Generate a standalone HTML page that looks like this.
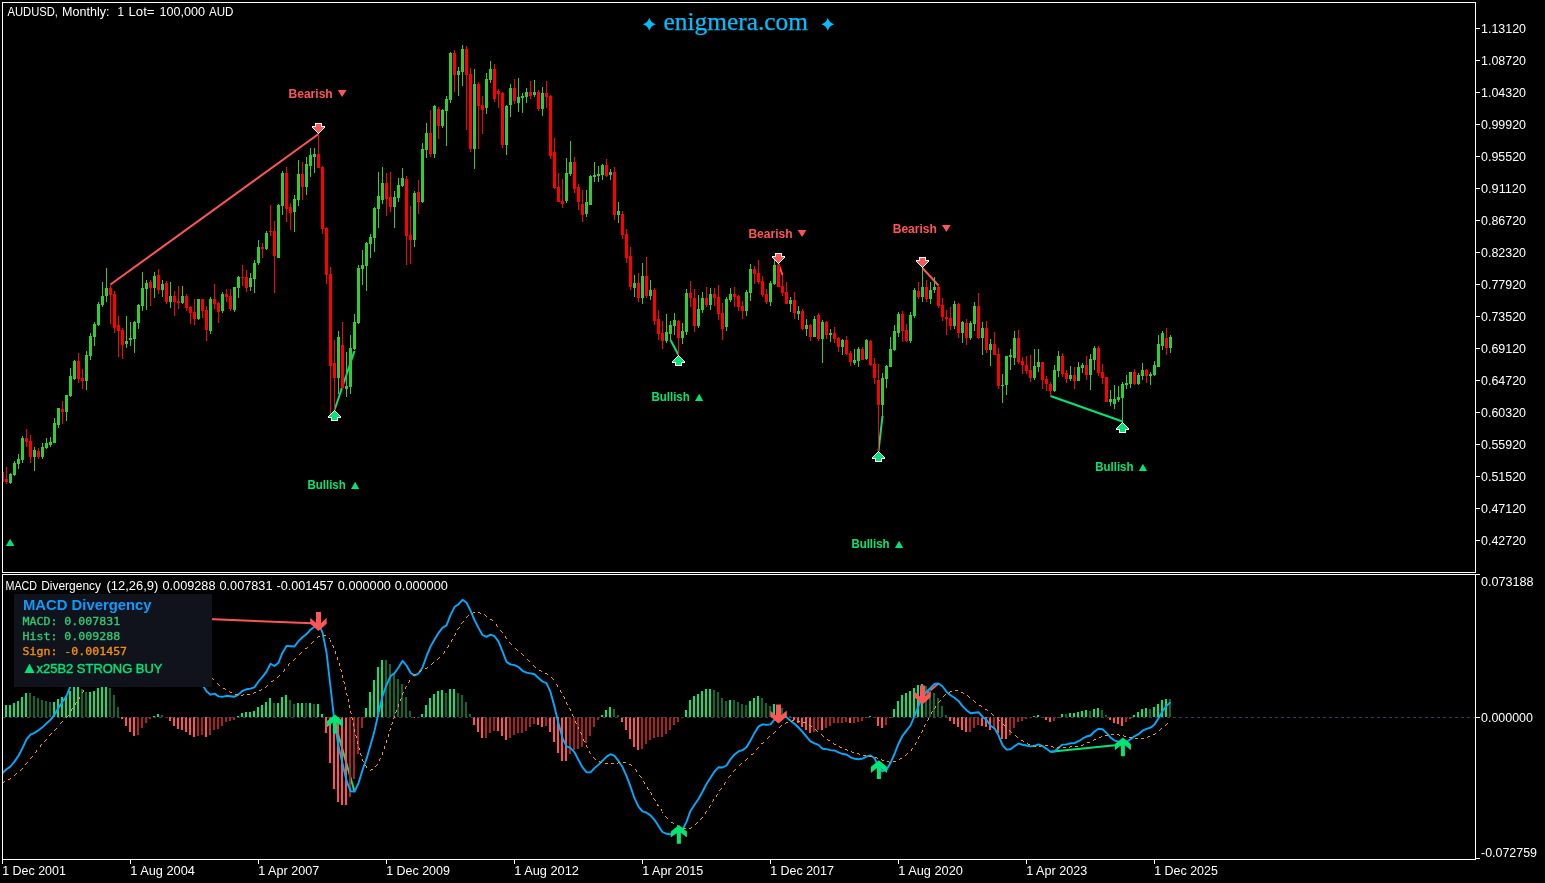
<!DOCTYPE html><html><head><meta charset="utf-8"><title>AUDUSD Monthly - MACD Divergency</title><style>html,body{margin:0;padding:0;background:#000;overflow:hidden}svg{display:block}text{white-space:pre}</style></head><body><svg width="1545" height="883" viewBox="0 0 1545 883"><rect width="1545" height="883" fill="#000"/><g><line x1="110.5" y1="284.5" x2="318.5" y2="134" stroke="#ff5555" stroke-width="2"/><line x1="334.5" y1="410" x2="354.5" y2="351" stroke="#00e676" stroke-width="2"/><line x1="670.5" y1="340" x2="678.5" y2="355" stroke="#00e676" stroke-width="2"/><line x1="778.5" y1="264" x2="782.5" y2="275" stroke="#ff5555" stroke-width="2"/><line x1="878.5" y1="451" x2="882.5" y2="416" stroke="#00e676" stroke-width="2"/><line x1="922.5" y1="268" x2="938.5" y2="285.5" stroke="#ff5555" stroke-width="2"/><line x1="1050.5" y1="396" x2="1122.5" y2="421.5" stroke="#00e676" stroke-width="2"/></g><g shape-rendering="crispEdges"><rect x="3" y="472" width="1" height="10" fill="#ff0000"/><rect x="6" y="467" width="1" height="17" fill="#ff0000"/><rect x="5" y="479" width="3" height="3" fill="#ff0000"/><rect x="10" y="473" width="1" height="11" fill="#32cd32"/><rect x="9" y="474" width="3" height="9" fill="#32cd32"/><rect x="14" y="461" width="1" height="15" fill="#32cd32"/><rect x="13" y="463" width="3" height="12" fill="#32cd32"/><rect x="18" y="454" width="1" height="15" fill="#32cd32"/><rect x="17" y="459" width="3" height="5" fill="#32cd32"/><rect x="22" y="436" width="1" height="27" fill="#32cd32"/><rect x="21" y="438" width="3" height="22" fill="#32cd32"/><rect x="26" y="429" width="1" height="18" fill="#ff0000"/><rect x="25" y="438" width="3" height="4" fill="#ff0000"/><rect x="30" y="435" width="1" height="28" fill="#ff0000"/><rect x="29" y="441" width="3" height="16" fill="#ff0000"/><rect x="34" y="447" width="1" height="24" fill="#32cd32"/><rect x="33" y="450" width="3" height="7" fill="#32cd32"/><rect x="38" y="448" width="1" height="11" fill="#ff0000"/><rect x="37" y="451" width="3" height="6" fill="#ff0000"/><rect x="42" y="443" width="1" height="16" fill="#32cd32"/><rect x="41" y="447" width="3" height="10" fill="#32cd32"/><rect x="46" y="438" width="1" height="11" fill="#32cd32"/><rect x="45" y="443" width="3" height="5" fill="#32cd32"/><rect x="50" y="437" width="1" height="10" fill="#32cd32"/><rect x="49" y="442" width="3" height="3" fill="#32cd32"/><rect x="54" y="418" width="1" height="25" fill="#32cd32"/><rect x="53" y="423" width="3" height="20" fill="#32cd32"/><rect x="58" y="408" width="1" height="20" fill="#32cd32"/><rect x="57" y="408" width="3" height="17" fill="#32cd32"/><rect x="62" y="401" width="1" height="23" fill="#ff0000"/><rect x="61" y="409" width="3" height="3" fill="#ff0000"/><rect x="66" y="395" width="1" height="26" fill="#32cd32"/><rect x="65" y="395" width="3" height="17" fill="#32cd32"/><rect x="70" y="368" width="1" height="29" fill="#32cd32"/><rect x="69" y="376" width="3" height="20" fill="#32cd32"/><rect x="74" y="360" width="1" height="20" fill="#32cd32"/><rect x="73" y="361" width="3" height="18" fill="#32cd32"/><rect x="78" y="353" width="1" height="30" fill="#ff0000"/><rect x="77" y="361" width="3" height="18" fill="#ff0000"/><rect x="82" y="369" width="1" height="20" fill="#ff0000"/><rect x="81" y="378" width="3" height="3" fill="#ff0000"/><rect x="86" y="351" width="1" height="39" fill="#32cd32"/><rect x="85" y="355" width="3" height="26" fill="#32cd32"/><rect x="90" y="333" width="1" height="27" fill="#32cd32"/><rect x="89" y="336" width="3" height="20" fill="#32cd32"/><rect x="94" y="322" width="1" height="24" fill="#32cd32"/><rect x="93" y="324" width="3" height="13" fill="#32cd32"/><rect x="98" y="302" width="1" height="24" fill="#32cd32"/><rect x="97" y="304" width="3" height="21" fill="#32cd32"/><rect x="102" y="282" width="1" height="25" fill="#32cd32"/><rect x="101" y="296" width="3" height="9" fill="#32cd32"/><rect x="106" y="268" width="1" height="34" fill="#32cd32"/><rect x="105" y="288" width="3" height="8" fill="#32cd32"/><rect x="110" y="284" width="1" height="40" fill="#ff0000"/><rect x="109" y="288" width="3" height="7" fill="#ff0000"/><rect x="114" y="291" width="1" height="42" fill="#ff0000"/><rect x="113" y="294" width="3" height="34" fill="#ff0000"/><rect x="118" y="316" width="1" height="41" fill="#ff0000"/><rect x="117" y="325" width="3" height="6" fill="#ff0000"/><rect x="122" y="328" width="1" height="31" fill="#ff0000"/><rect x="121" y="330" width="3" height="15" fill="#ff0000"/><rect x="126" y="316" width="1" height="32" fill="#32cd32"/><rect x="125" y="341" width="3" height="3" fill="#32cd32"/><rect x="130" y="322" width="1" height="24" fill="#32cd32"/><rect x="129" y="338" width="3" height="2" fill="#32cd32"/><rect x="134" y="321" width="1" height="32" fill="#32cd32"/><rect x="133" y="322" width="3" height="17" fill="#32cd32"/><rect x="138" y="304" width="1" height="25" fill="#32cd32"/><rect x="137" y="305" width="3" height="18" fill="#32cd32"/><rect x="142" y="272" width="1" height="39" fill="#32cd32"/><rect x="141" y="288" width="3" height="18" fill="#32cd32"/><rect x="146" y="280" width="1" height="30" fill="#32cd32"/><rect x="145" y="283" width="3" height="6" fill="#32cd32"/><rect x="150" y="280" width="1" height="26" fill="#ff0000"/><rect x="149" y="282" width="3" height="6" fill="#ff0000"/><rect x="154" y="272" width="1" height="26" fill="#32cd32"/><rect x="153" y="276" width="3" height="12" fill="#32cd32"/><rect x="158" y="269" width="1" height="25" fill="#ff0000"/><rect x="157" y="275" width="3" height="15" fill="#ff0000"/><rect x="162" y="280" width="1" height="17" fill="#32cd32"/><rect x="161" y="284" width="3" height="6" fill="#32cd32"/><rect x="166" y="281" width="1" height="23" fill="#ff0000"/><rect x="165" y="283" width="3" height="19" fill="#ff0000"/><rect x="170" y="282" width="1" height="26" fill="#32cd32"/><rect x="169" y="296" width="3" height="6" fill="#32cd32"/><rect x="174" y="291" width="1" height="25" fill="#ff0000"/><rect x="173" y="296" width="3" height="6" fill="#ff0000"/><rect x="178" y="286" width="1" height="23" fill="#ff0000"/><rect x="177" y="301" width="3" height="2" fill="#ff0000"/><rect x="182" y="286" width="1" height="18" fill="#32cd32"/><rect x="181" y="296" width="3" height="7" fill="#32cd32"/><rect x="186" y="294" width="1" height="17" fill="#ff0000"/><rect x="185" y="296" width="3" height="12" fill="#ff0000"/><rect x="190" y="306" width="1" height="18" fill="#ff0000"/><rect x="189" y="307" width="3" height="6" fill="#ff0000"/><rect x="194" y="299" width="1" height="26" fill="#ff0000"/><rect x="193" y="312" width="3" height="7" fill="#ff0000"/><rect x="198" y="299" width="1" height="21" fill="#32cd32"/><rect x="197" y="299" width="3" height="20" fill="#32cd32"/><rect x="202" y="299" width="1" height="19" fill="#ff0000"/><rect x="201" y="299" width="3" height="12" fill="#ff0000"/><rect x="206" y="306" width="1" height="35" fill="#ff0000"/><rect x="205" y="310" width="3" height="20" fill="#ff0000"/><rect x="210" y="297" width="1" height="37" fill="#32cd32"/><rect x="209" y="299" width="3" height="32" fill="#32cd32"/><rect x="214" y="284" width="1" height="25" fill="#ff0000"/><rect x="213" y="299" width="3" height="5" fill="#ff0000"/><rect x="218" y="302" width="1" height="21" fill="#ff0000"/><rect x="217" y="303" width="3" height="9" fill="#ff0000"/><rect x="222" y="292" width="1" height="21" fill="#32cd32"/><rect x="221" y="294" width="3" height="17" fill="#32cd32"/><rect x="226" y="289" width="1" height="13" fill="#ff0000"/><rect x="225" y="294" width="3" height="3" fill="#ff0000"/><rect x="230" y="289" width="1" height="22" fill="#ff0000"/><rect x="229" y="296" width="3" height="13" fill="#ff0000"/><rect x="234" y="287" width="1" height="25" fill="#32cd32"/><rect x="233" y="287" width="3" height="23" fill="#32cd32"/><rect x="238" y="276" width="1" height="22" fill="#32cd32"/><rect x="237" y="277" width="3" height="11" fill="#32cd32"/><rect x="242" y="265" width="1" height="21" fill="#ff0000"/><rect x="241" y="277" width="3" height="1" fill="#ff0000"/><rect x="246" y="270" width="1" height="22" fill="#ff0000"/><rect x="245" y="277" width="3" height="11" fill="#ff0000"/><rect x="250" y="273" width="1" height="18" fill="#32cd32"/><rect x="249" y="278" width="3" height="9" fill="#32cd32"/><rect x="254" y="260" width="1" height="33" fill="#32cd32"/><rect x="253" y="263" width="3" height="16" fill="#32cd32"/><rect x="258" y="240" width="1" height="25" fill="#32cd32"/><rect x="257" y="247" width="3" height="16" fill="#32cd32"/><rect x="262" y="243" width="1" height="15" fill="#ff0000"/><rect x="261" y="247" width="3" height="2" fill="#ff0000"/><rect x="266" y="231" width="1" height="19" fill="#32cd32"/><rect x="265" y="233" width="3" height="16" fill="#32cd32"/><rect x="270" y="205" width="1" height="31" fill="#ff0000"/><rect x="269" y="231" width="3" height="1" fill="#ff0000"/><rect x="274" y="221" width="1" height="72" fill="#ff0000"/><rect x="273" y="231" width="3" height="25" fill="#ff0000"/><rect x="278" y="204" width="1" height="54" fill="#32cd32"/><rect x="277" y="205" width="3" height="53" fill="#32cd32"/><rect x="282" y="171" width="1" height="44" fill="#32cd32"/><rect x="281" y="173" width="3" height="33" fill="#32cd32"/><rect x="286" y="167" width="1" height="55" fill="#ff0000"/><rect x="285" y="173" width="3" height="36" fill="#ff0000"/><rect x="290" y="203" width="1" height="27" fill="#ff0000"/><rect x="289" y="207" width="3" height="6" fill="#ff0000"/><rect x="294" y="195" width="1" height="37" fill="#32cd32"/><rect x="293" y="199" width="3" height="13" fill="#32cd32"/><rect x="298" y="160" width="1" height="46" fill="#32cd32"/><rect x="297" y="174" width="3" height="26" fill="#32cd32"/><rect x="302" y="162" width="1" height="38" fill="#ff0000"/><rect x="301" y="174" width="3" height="13" fill="#ff0000"/><rect x="306" y="157" width="1" height="38" fill="#32cd32"/><rect x="305" y="164" width="3" height="23" fill="#32cd32"/><rect x="310" y="148" width="1" height="29" fill="#32cd32"/><rect x="309" y="155" width="3" height="11" fill="#32cd32"/><rect x="314" y="148" width="1" height="25" fill="#32cd32"/><rect x="313" y="154" width="3" height="3" fill="#32cd32"/><rect x="318" y="134" width="1" height="34" fill="#ff0000"/><rect x="317" y="154" width="3" height="14" fill="#ff0000"/><rect x="322" y="166" width="1" height="68" fill="#ff0000"/><rect x="321" y="167" width="3" height="62" fill="#ff0000"/><rect x="326" y="227" width="1" height="57" fill="#ff0000"/><rect x="325" y="228" width="3" height="47" fill="#ff0000"/><rect x="330" y="267" width="1" height="148" fill="#ff0000"/><rect x="329" y="274" width="3" height="92" fill="#ff0000"/><rect x="334" y="340" width="1" height="70" fill="#ff0000"/><rect x="333" y="363" width="3" height="15" fill="#ff0000"/><rect x="338" y="331" width="1" height="63" fill="#32cd32"/><rect x="337" y="337" width="3" height="41" fill="#32cd32"/><rect x="342" y="322" width="1" height="68" fill="#ff0000"/><rect x="341" y="345" width="3" height="43" fill="#ff0000"/><rect x="346" y="352" width="1" height="45" fill="#32cd32"/><rect x="345" y="386" width="3" height="3" fill="#32cd32"/><rect x="350" y="335" width="1" height="59" fill="#32cd32"/><rect x="349" y="348" width="3" height="39" fill="#32cd32"/><rect x="354" y="314" width="1" height="36" fill="#32cd32"/><rect x="353" y="322" width="3" height="27" fill="#32cd32"/><rect x="358" y="265" width="1" height="59" fill="#32cd32"/><rect x="357" y="268" width="3" height="55" fill="#32cd32"/><rect x="362" y="250" width="1" height="35" fill="#32cd32"/><rect x="361" y="265" width="3" height="4" fill="#32cd32"/><rect x="366" y="242" width="1" height="49" fill="#32cd32"/><rect x="365" y="243" width="3" height="23" fill="#32cd32"/><rect x="370" y="234" width="1" height="24" fill="#32cd32"/><rect x="369" y="237" width="3" height="7" fill="#32cd32"/><rect x="374" y="207" width="1" height="45" fill="#32cd32"/><rect x="373" y="208" width="3" height="30" fill="#32cd32"/><rect x="378" y="172" width="1" height="56" fill="#32cd32"/><rect x="377" y="196" width="3" height="13" fill="#32cd32"/><rect x="382" y="167" width="1" height="37" fill="#32cd32"/><rect x="381" y="183" width="3" height="17" fill="#32cd32"/><rect x="386" y="173" width="1" height="43" fill="#ff0000"/><rect x="385" y="183" width="3" height="16" fill="#ff0000"/><rect x="390" y="172" width="1" height="40" fill="#ff0000"/><rect x="389" y="197" width="3" height="10" fill="#ff0000"/><rect x="394" y="191" width="1" height="37" fill="#32cd32"/><rect x="393" y="197" width="3" height="10" fill="#32cd32"/><rect x="398" y="178" width="1" height="24" fill="#32cd32"/><rect x="397" y="185" width="3" height="13" fill="#32cd32"/><rect x="402" y="168" width="1" height="19" fill="#32cd32"/><rect x="401" y="178" width="3" height="8" fill="#32cd32"/><rect x="406" y="176" width="1" height="89" fill="#ff0000"/><rect x="405" y="179" width="3" height="57" fill="#ff0000"/><rect x="410" y="206" width="1" height="58" fill="#ff0000"/><rect x="409" y="235" width="3" height="5" fill="#ff0000"/><rect x="414" y="191" width="1" height="56" fill="#32cd32"/><rect x="413" y="193" width="3" height="47" fill="#32cd32"/><rect x="418" y="180" width="1" height="34" fill="#ff0000"/><rect x="417" y="192" width="3" height="10" fill="#ff0000"/><rect x="422" y="143" width="1" height="60" fill="#32cd32"/><rect x="421" y="149" width="3" height="53" fill="#32cd32"/><rect x="426" y="123" width="1" height="35" fill="#32cd32"/><rect x="425" y="133" width="3" height="17" fill="#32cd32"/><rect x="430" y="110" width="1" height="47" fill="#ff0000"/><rect x="429" y="133" width="3" height="21" fill="#ff0000"/><rect x="434" y="105" width="1" height="53" fill="#32cd32"/><rect x="433" y="106" width="3" height="48" fill="#32cd32"/><rect x="438" y="107" width="1" height="32" fill="#ff0000"/><rect x="437" y="109" width="3" height="17" fill="#ff0000"/><rect x="442" y="109" width="1" height="19" fill="#32cd32"/><rect x="441" y="110" width="3" height="16" fill="#32cd32"/><rect x="446" y="96" width="1" height="50" fill="#32cd32"/><rect x="445" y="99" width="3" height="12" fill="#32cd32"/><rect x="450" y="52" width="1" height="51" fill="#32cd32"/><rect x="449" y="53" width="3" height="47" fill="#32cd32"/><rect x="454" y="50" width="1" height="42" fill="#ff0000"/><rect x="453" y="53" width="3" height="22" fill="#ff0000"/><rect x="458" y="67" width="1" height="29" fill="#32cd32"/><rect x="457" y="71" width="3" height="4" fill="#32cd32"/><rect x="462" y="45" width="1" height="41" fill="#32cd32"/><rect x="461" y="49" width="3" height="23" fill="#32cd32"/><rect x="466" y="46" width="1" height="84" fill="#ff0000"/><rect x="465" y="49" width="3" height="26" fill="#ff0000"/><rect x="470" y="68" width="1" height="84" fill="#ff0000"/><rect x="469" y="74" width="3" height="75" fill="#ff0000"/><rect x="474" y="69" width="1" height="100" fill="#32cd32"/><rect x="473" y="84" width="3" height="65" fill="#32cd32"/><rect x="478" y="82" width="1" height="67" fill="#ff0000"/><rect x="477" y="84" width="3" height="22" fill="#ff0000"/><rect x="482" y="96" width="1" height="38" fill="#ff0000"/><rect x="481" y="105" width="3" height="5" fill="#ff0000"/><rect x="486" y="73" width="1" height="41" fill="#32cd32"/><rect x="485" y="79" width="3" height="29" fill="#32cd32"/><rect x="490" y="61" width="1" height="22" fill="#32cd32"/><rect x="489" y="69" width="3" height="11" fill="#32cd32"/><rect x="494" y="64" width="1" height="38" fill="#ff0000"/><rect x="493" y="69" width="3" height="30" fill="#ff0000"/><rect x="498" y="89" width="1" height="19" fill="#ff0000"/><rect x="497" y="91" width="3" height="3" fill="#ff0000"/><rect x="502" y="92" width="1" height="56" fill="#ff0000"/><rect x="501" y="93" width="3" height="52" fill="#ff0000"/><rect x="506" y="105" width="1" height="50" fill="#32cd32"/><rect x="505" y="106" width="3" height="39" fill="#32cd32"/><rect x="510" y="84" width="1" height="33" fill="#32cd32"/><rect x="509" y="88" width="3" height="17" fill="#32cd32"/><rect x="514" y="79" width="1" height="25" fill="#ff0000"/><rect x="513" y="88" width="3" height="13" fill="#ff0000"/><rect x="518" y="78" width="1" height="34" fill="#32cd32"/><rect x="517" y="97" width="3" height="6" fill="#32cd32"/><rect x="522" y="93" width="1" height="20" fill="#32cd32"/><rect x="521" y="96" width="3" height="2" fill="#32cd32"/><rect x="526" y="88" width="1" height="15" fill="#32cd32"/><rect x="525" y="92" width="3" height="5" fill="#32cd32"/><rect x="530" y="81" width="1" height="18" fill="#ff0000"/><rect x="529" y="92" width="3" height="4" fill="#ff0000"/><rect x="534" y="80" width="1" height="17" fill="#32cd32"/><rect x="533" y="92" width="3" height="3" fill="#32cd32"/><rect x="538" y="90" width="1" height="21" fill="#ff0000"/><rect x="537" y="92" width="3" height="17" fill="#ff0000"/><rect x="542" y="87" width="1" height="29" fill="#32cd32"/><rect x="541" y="93" width="3" height="16" fill="#32cd32"/><rect x="546" y="81" width="1" height="27" fill="#ff0000"/><rect x="545" y="93" width="3" height="4" fill="#ff0000"/><rect x="550" y="95" width="1" height="64" fill="#ff0000"/><rect x="549" y="96" width="3" height="60" fill="#ff0000"/><rect x="554" y="138" width="1" height="51" fill="#ff0000"/><rect x="553" y="152" width="3" height="36" fill="#ff0000"/><rect x="558" y="173" width="1" height="29" fill="#ff0000"/><rect x="557" y="187" width="3" height="15" fill="#ff0000"/><rect x="562" y="179" width="1" height="29" fill="#ff0000"/><rect x="561" y="201" width="3" height="3" fill="#ff0000"/><rect x="566" y="158" width="1" height="45" fill="#32cd32"/><rect x="565" y="173" width="3" height="28" fill="#32cd32"/><rect x="570" y="141" width="1" height="35" fill="#32cd32"/><rect x="569" y="162" width="3" height="12" fill="#32cd32"/><rect x="574" y="157" width="1" height="36" fill="#ff0000"/><rect x="573" y="162" width="3" height="27" fill="#ff0000"/><rect x="578" y="184" width="1" height="26" fill="#ff0000"/><rect x="577" y="187" width="3" height="15" fill="#ff0000"/><rect x="582" y="190" width="1" height="32" fill="#ff0000"/><rect x="581" y="204" width="3" height="11" fill="#ff0000"/><rect x="586" y="190" width="1" height="27" fill="#32cd32"/><rect x="585" y="202" width="3" height="12" fill="#32cd32"/><rect x="590" y="175" width="1" height="30" fill="#32cd32"/><rect x="589" y="176" width="3" height="29" fill="#32cd32"/><rect x="594" y="162" width="1" height="20" fill="#32cd32"/><rect x="593" y="175" width="3" height="2" fill="#32cd32"/><rect x="598" y="166" width="1" height="16" fill="#32cd32"/><rect x="597" y="174" width="3" height="2" fill="#32cd32"/><rect x="602" y="164" width="1" height="16" fill="#32cd32"/><rect x="601" y="165" width="3" height="10" fill="#32cd32"/><rect x="606" y="159" width="1" height="18" fill="#ff0000"/><rect x="605" y="165" width="3" height="11" fill="#ff0000"/><rect x="610" y="169" width="1" height="11" fill="#32cd32"/><rect x="609" y="172" width="3" height="3" fill="#32cd32"/><rect x="614" y="167" width="1" height="53" fill="#ff0000"/><rect x="613" y="172" width="3" height="43" fill="#ff0000"/><rect x="618" y="202" width="1" height="21" fill="#32cd32"/><rect x="617" y="211" width="3" height="4" fill="#32cd32"/><rect x="622" y="211" width="1" height="28" fill="#ff0000"/><rect x="621" y="214" width="3" height="21" fill="#ff0000"/><rect x="626" y="229" width="1" height="34" fill="#ff0000"/><rect x="625" y="234" width="3" height="24" fill="#ff0000"/><rect x="630" y="247" width="1" height="43" fill="#ff0000"/><rect x="629" y="256" width="3" height="31" fill="#ff0000"/><rect x="634" y="275" width="1" height="22" fill="#32cd32"/><rect x="633" y="283" width="3" height="5" fill="#32cd32"/><rect x="638" y="273" width="1" height="29" fill="#ff0000"/><rect x="637" y="283" width="3" height="15" fill="#ff0000"/><rect x="642" y="263" width="1" height="41" fill="#32cd32"/><rect x="641" y="276" width="3" height="22" fill="#32cd32"/><rect x="646" y="257" width="1" height="41" fill="#ff0000"/><rect x="645" y="276" width="3" height="20" fill="#ff0000"/><rect x="650" y="280" width="1" height="20" fill="#32cd32"/><rect x="649" y="290" width="3" height="6" fill="#32cd32"/><rect x="654" y="288" width="1" height="37" fill="#ff0000"/><rect x="653" y="290" width="3" height="31" fill="#ff0000"/><rect x="658" y="310" width="1" height="30" fill="#ff0000"/><rect x="657" y="319" width="3" height="15" fill="#ff0000"/><rect x="662" y="321" width="1" height="28" fill="#ff0000"/><rect x="661" y="333" width="3" height="8" fill="#ff0000"/><rect x="666" y="314" width="1" height="29" fill="#32cd32"/><rect x="665" y="332" width="3" height="9" fill="#32cd32"/><rect x="670" y="321" width="1" height="19" fill="#32cd32"/><rect x="669" y="325" width="3" height="9" fill="#32cd32"/><rect x="674" y="313" width="1" height="22" fill="#32cd32"/><rect x="673" y="320" width="3" height="6" fill="#32cd32"/><rect x="678" y="320" width="1" height="35" fill="#ff0000"/><rect x="677" y="321" width="3" height="17" fill="#ff0000"/><rect x="682" y="323" width="1" height="21" fill="#32cd32"/><rect x="681" y="331" width="3" height="7" fill="#32cd32"/><rect x="686" y="289" width="1" height="46" fill="#32cd32"/><rect x="685" y="293" width="3" height="39" fill="#32cd32"/><rect x="690" y="281" width="1" height="26" fill="#ff0000"/><rect x="689" y="293" width="3" height="5" fill="#ff0000"/><rect x="694" y="289" width="1" height="43" fill="#ff0000"/><rect x="693" y="298" width="3" height="28" fill="#ff0000"/><rect x="698" y="295" width="1" height="33" fill="#32cd32"/><rect x="697" y="309" width="3" height="17" fill="#32cd32"/><rect x="702" y="292" width="1" height="21" fill="#32cd32"/><rect x="701" y="298" width="3" height="12" fill="#32cd32"/><rect x="706" y="287" width="1" height="20" fill="#ff0000"/><rect x="705" y="298" width="3" height="7" fill="#ff0000"/><rect x="710" y="288" width="1" height="22" fill="#32cd32"/><rect x="709" y="294" width="3" height="11" fill="#32cd32"/><rect x="714" y="288" width="1" height="18" fill="#ff0000"/><rect x="713" y="294" width="3" height="4" fill="#ff0000"/><rect x="718" y="285" width="1" height="35" fill="#ff0000"/><rect x="717" y="297" width="3" height="17" fill="#ff0000"/><rect x="722" y="303" width="1" height="37" fill="#ff0000"/><rect x="721" y="313" width="3" height="16" fill="#ff0000"/><rect x="726" y="297" width="1" height="34" fill="#32cd32"/><rect x="725" y="299" width="3" height="28" fill="#32cd32"/><rect x="730" y="288" width="1" height="14" fill="#32cd32"/><rect x="729" y="294" width="3" height="6" fill="#32cd32"/><rect x="734" y="287" width="1" height="20" fill="#ff0000"/><rect x="733" y="294" width="3" height="3" fill="#ff0000"/><rect x="738" y="295" width="1" height="16" fill="#ff0000"/><rect x="737" y="296" width="3" height="11" fill="#ff0000"/><rect x="742" y="301" width="1" height="18" fill="#ff0000"/><rect x="741" y="306" width="3" height="5" fill="#ff0000"/><rect x="746" y="290" width="1" height="26" fill="#32cd32"/><rect x="745" y="292" width="3" height="19" fill="#32cd32"/><rect x="750" y="264" width="1" height="37" fill="#32cd32"/><rect x="749" y="269" width="3" height="24" fill="#32cd32"/><rect x="754" y="266" width="1" height="18" fill="#ff0000"/><rect x="753" y="269" width="3" height="5" fill="#ff0000"/><rect x="758" y="260" width="1" height="24" fill="#ff0000"/><rect x="757" y="273" width="3" height="9" fill="#ff0000"/><rect x="762" y="276" width="1" height="21" fill="#ff0000"/><rect x="761" y="281" width="3" height="14" fill="#ff0000"/><rect x="766" y="289" width="1" height="15" fill="#ff0000"/><rect x="765" y="294" width="3" height="8" fill="#ff0000"/><rect x="770" y="281" width="1" height="25" fill="#32cd32"/><rect x="769" y="283" width="3" height="19" fill="#32cd32"/><rect x="774" y="260" width="1" height="25" fill="#32cd32"/><rect x="773" y="265" width="3" height="19" fill="#32cd32"/><rect x="778" y="264" width="1" height="23" fill="#ff0000"/><rect x="777" y="265" width="3" height="22" fill="#ff0000"/><rect x="782" y="275" width="1" height="21" fill="#ff0000"/><rect x="781" y="286" width="3" height="7" fill="#ff0000"/><rect x="786" y="282" width="1" height="22" fill="#ff0000"/><rect x="785" y="292" width="3" height="12" fill="#ff0000"/><rect x="790" y="297" width="1" height="15" fill="#32cd32"/><rect x="789" y="300" width="3" height="4" fill="#32cd32"/><rect x="794" y="292" width="1" height="27" fill="#ff0000"/><rect x="793" y="300" width="3" height="13" fill="#ff0000"/><rect x="798" y="306" width="1" height="14" fill="#32cd32"/><rect x="797" y="311" width="3" height="3" fill="#32cd32"/><rect x="802" y="309" width="1" height="21" fill="#ff0000"/><rect x="801" y="311" width="3" height="18" fill="#ff0000"/><rect x="806" y="319" width="1" height="17" fill="#32cd32"/><rect x="805" y="325" width="3" height="4" fill="#32cd32"/><rect x="810" y="324" width="1" height="17" fill="#ff0000"/><rect x="809" y="325" width="3" height="12" fill="#ff0000"/><rect x="814" y="316" width="1" height="21" fill="#32cd32"/><rect x="813" y="319" width="3" height="18" fill="#32cd32"/><rect x="818" y="313" width="1" height="28" fill="#ff0000"/><rect x="817" y="315" width="3" height="24" fill="#ff0000"/><rect x="822" y="320" width="1" height="43" fill="#32cd32"/><rect x="821" y="322" width="3" height="17" fill="#32cd32"/><rect x="826" y="321" width="1" height="18" fill="#ff0000"/><rect x="825" y="322" width="3" height="13" fill="#ff0000"/><rect x="830" y="329" width="1" height="13" fill="#32cd32"/><rect x="829" y="333" width="3" height="2" fill="#32cd32"/><rect x="834" y="327" width="1" height="16" fill="#ff0000"/><rect x="833" y="333" width="3" height="6" fill="#ff0000"/><rect x="838" y="337" width="1" height="15" fill="#ff0000"/><rect x="837" y="338" width="3" height="9" fill="#ff0000"/><rect x="842" y="339" width="1" height="16" fill="#32cd32"/><rect x="841" y="340" width="3" height="7" fill="#32cd32"/><rect x="846" y="336" width="1" height="19" fill="#ff0000"/><rect x="845" y="340" width="3" height="14" fill="#ff0000"/><rect x="850" y="351" width="1" height="15" fill="#ff0000"/><rect x="849" y="353" width="3" height="9" fill="#ff0000"/><rect x="854" y="349" width="1" height="16" fill="#32cd32"/><rect x="853" y="360" width="3" height="3" fill="#32cd32"/><rect x="858" y="347" width="1" height="20" fill="#32cd32"/><rect x="857" y="349" width="3" height="12" fill="#32cd32"/><rect x="862" y="347" width="1" height="13" fill="#ff0000"/><rect x="861" y="349" width="3" height="11" fill="#ff0000"/><rect x="866" y="339" width="1" height="21" fill="#32cd32"/><rect x="865" y="340" width="3" height="19" fill="#32cd32"/><rect x="870" y="340" width="1" height="26" fill="#ff0000"/><rect x="869" y="341" width="3" height="24" fill="#ff0000"/><rect x="874" y="358" width="1" height="26" fill="#ff0000"/><rect x="873" y="364" width="3" height="14" fill="#ff0000"/><rect x="878" y="364" width="1" height="87" fill="#ff0000"/><rect x="877" y="380" width="3" height="25" fill="#ff0000"/><rect x="882" y="373" width="1" height="43" fill="#32cd32"/><rect x="881" y="378" width="3" height="27" fill="#32cd32"/><rect x="886" y="365" width="1" height="23" fill="#32cd32"/><rect x="885" y="366" width="3" height="13" fill="#32cd32"/><rect x="890" y="337" width="1" height="30" fill="#32cd32"/><rect x="889" y="349" width="3" height="18" fill="#32cd32"/><rect x="894" y="325" width="1" height="26" fill="#32cd32"/><rect x="893" y="331" width="3" height="19" fill="#32cd32"/><rect x="898" y="312" width="1" height="25" fill="#32cd32"/><rect x="897" y="314" width="3" height="19" fill="#32cd32"/><rect x="902" y="311" width="1" height="31" fill="#ff0000"/><rect x="901" y="314" width="3" height="17" fill="#ff0000"/><rect x="906" y="324" width="1" height="18" fill="#ff0000"/><rect x="905" y="330" width="3" height="11" fill="#ff0000"/><rect x="910" y="312" width="1" height="31" fill="#32cd32"/><rect x="909" y="315" width="3" height="26" fill="#32cd32"/><rect x="914" y="288" width="1" height="30" fill="#32cd32"/><rect x="913" y="290" width="3" height="26" fill="#32cd32"/><rect x="918" y="282" width="1" height="17" fill="#ff0000"/><rect x="917" y="291" width="3" height="6" fill="#ff0000"/><rect x="922" y="268" width="1" height="34" fill="#32cd32"/><rect x="921" y="287" width="3" height="10" fill="#32cd32"/><rect x="926" y="280" width="1" height="22" fill="#ff0000"/><rect x="925" y="287" width="3" height="12" fill="#ff0000"/><rect x="930" y="282" width="1" height="22" fill="#32cd32"/><rect x="929" y="290" width="3" height="9" fill="#32cd32"/><rect x="934" y="277" width="1" height="16" fill="#32cd32"/><rect x="933" y="287" width="3" height="3" fill="#32cd32"/><rect x="938" y="286" width="1" height="22" fill="#ff0000"/><rect x="937" y="287" width="3" height="19" fill="#ff0000"/><rect x="942" y="298" width="1" height="23" fill="#ff0000"/><rect x="941" y="305" width="3" height="12" fill="#ff0000"/><rect x="946" y="310" width="1" height="25" fill="#ff0000"/><rect x="945" y="317" width="3" height="2" fill="#ff0000"/><rect x="950" y="307" width="1" height="23" fill="#ff0000"/><rect x="949" y="318" width="3" height="8" fill="#ff0000"/><rect x="954" y="301" width="1" height="28" fill="#32cd32"/><rect x="953" y="304" width="3" height="22" fill="#32cd32"/><rect x="958" y="303" width="1" height="35" fill="#ff0000"/><rect x="957" y="304" width="3" height="29" fill="#ff0000"/><rect x="962" y="321" width="1" height="22" fill="#32cd32"/><rect x="961" y="322" width="3" height="11" fill="#32cd32"/><rect x="966" y="319" width="1" height="26" fill="#ff0000"/><rect x="965" y="323" width="3" height="15" fill="#ff0000"/><rect x="970" y="321" width="1" height="19" fill="#32cd32"/><rect x="969" y="323" width="3" height="15" fill="#32cd32"/><rect x="974" y="302" width="1" height="29" fill="#32cd32"/><rect x="973" y="306" width="3" height="18" fill="#32cd32"/><rect x="978" y="293" width="1" height="46" fill="#ff0000"/><rect x="977" y="306" width="3" height="32" fill="#ff0000"/><rect x="982" y="322" width="1" height="33" fill="#32cd32"/><rect x="981" y="328" width="3" height="10" fill="#32cd32"/><rect x="986" y="321" width="1" height="32" fill="#ff0000"/><rect x="985" y="328" width="3" height="22" fill="#ff0000"/><rect x="990" y="339" width="1" height="27" fill="#32cd32"/><rect x="989" y="344" width="3" height="6" fill="#32cd32"/><rect x="994" y="332" width="1" height="23" fill="#ff0000"/><rect x="993" y="344" width="3" height="11" fill="#ff0000"/><rect x="998" y="348" width="1" height="41" fill="#ff0000"/><rect x="997" y="354" width="3" height="32" fill="#ff0000"/><rect x="1002" y="374" width="1" height="29" fill="#32cd32"/><rect x="1001" y="385" width="3" height="1" fill="#32cd32"/><rect x="1006" y="356" width="1" height="39" fill="#32cd32"/><rect x="1005" y="356" width="3" height="29" fill="#32cd32"/><rect x="1010" y="349" width="1" height="21" fill="#32cd32"/><rect x="1009" y="355" width="3" height="2" fill="#32cd32"/><rect x="1014" y="331" width="1" height="34" fill="#32cd32"/><rect x="1013" y="338" width="3" height="20" fill="#32cd32"/><rect x="1018" y="330" width="1" height="34" fill="#ff0000"/><rect x="1017" y="338" width="3" height="24" fill="#ff0000"/><rect x="1022" y="357" width="1" height="17" fill="#ff0000"/><rect x="1021" y="361" width="3" height="4" fill="#ff0000"/><rect x="1026" y="356" width="1" height="18" fill="#ff0000"/><rect x="1025" y="365" width="3" height="6" fill="#ff0000"/><rect x="1030" y="355" width="1" height="27" fill="#ff0000"/><rect x="1029" y="370" width="3" height="8" fill="#ff0000"/><rect x="1034" y="349" width="1" height="31" fill="#32cd32"/><rect x="1033" y="366" width="3" height="12" fill="#32cd32"/><rect x="1038" y="349" width="1" height="23" fill="#32cd32"/><rect x="1037" y="362" width="3" height="5" fill="#32cd32"/><rect x="1042" y="362" width="1" height="27" fill="#ff0000"/><rect x="1041" y="362" width="3" height="18" fill="#ff0000"/><rect x="1046" y="376" width="1" height="15" fill="#ff0000"/><rect x="1045" y="379" width="3" height="5" fill="#ff0000"/><rect x="1050" y="382" width="1" height="14" fill="#ff0000"/><rect x="1049" y="384" width="3" height="7" fill="#ff0000"/><rect x="1054" y="365" width="1" height="27" fill="#32cd32"/><rect x="1053" y="370" width="3" height="21" fill="#32cd32"/><rect x="1058" y="351" width="1" height="26" fill="#32cd32"/><rect x="1057" y="356" width="3" height="15" fill="#32cd32"/><rect x="1062" y="353" width="1" height="24" fill="#ff0000"/><rect x="1061" y="356" width="3" height="18" fill="#ff0000"/><rect x="1066" y="370" width="1" height="13" fill="#ff0000"/><rect x="1065" y="373" width="3" height="6" fill="#ff0000"/><rect x="1070" y="366" width="1" height="15" fill="#32cd32"/><rect x="1069" y="375" width="3" height="4" fill="#32cd32"/><rect x="1074" y="367" width="1" height="22" fill="#ff0000"/><rect x="1073" y="375" width="3" height="6" fill="#ff0000"/><rect x="1078" y="362" width="1" height="19" fill="#32cd32"/><rect x="1077" y="367" width="3" height="14" fill="#32cd32"/><rect x="1082" y="363" width="1" height="10" fill="#32cd32"/><rect x="1081" y="365" width="3" height="3" fill="#32cd32"/><rect x="1086" y="356" width="1" height="24" fill="#ff0000"/><rect x="1085" y="365" width="3" height="10" fill="#ff0000"/><rect x="1090" y="354" width="1" height="36" fill="#32cd32"/><rect x="1089" y="359" width="3" height="16" fill="#32cd32"/><rect x="1094" y="346" width="1" height="24" fill="#32cd32"/><rect x="1093" y="348" width="3" height="12" fill="#32cd32"/><rect x="1098" y="346" width="1" height="30" fill="#ff0000"/><rect x="1097" y="348" width="3" height="25" fill="#ff0000"/><rect x="1102" y="364" width="1" height="20" fill="#ff0000"/><rect x="1101" y="372" width="3" height="6" fill="#ff0000"/><rect x="1106" y="377" width="1" height="25" fill="#ff0000"/><rect x="1105" y="377" width="3" height="25" fill="#ff0000"/><rect x="1110" y="390" width="1" height="16" fill="#32cd32"/><rect x="1109" y="399" width="3" height="3" fill="#32cd32"/><rect x="1114" y="385" width="1" height="24" fill="#32cd32"/><rect x="1113" y="399" width="3" height="5" fill="#32cd32"/><rect x="1118" y="386" width="1" height="16" fill="#32cd32"/><rect x="1117" y="397" width="3" height="3" fill="#32cd32"/><rect x="1122" y="382" width="1" height="40" fill="#32cd32"/><rect x="1121" y="384" width="3" height="14" fill="#32cd32"/><rect x="1126" y="375" width="1" height="14" fill="#32cd32"/><rect x="1125" y="383" width="3" height="2" fill="#32cd32"/><rect x="1130" y="372" width="1" height="16" fill="#32cd32"/><rect x="1129" y="372" width="3" height="12" fill="#32cd32"/><rect x="1134" y="369" width="1" height="16" fill="#ff0000"/><rect x="1133" y="372" width="3" height="12" fill="#ff0000"/><rect x="1138" y="373" width="1" height="12" fill="#32cd32"/><rect x="1137" y="375" width="3" height="9" fill="#32cd32"/><rect x="1142" y="363" width="1" height="17" fill="#32cd32"/><rect x="1141" y="370" width="3" height="6" fill="#32cd32"/><rect x="1146" y="369" width="1" height="14" fill="#ff0000"/><rect x="1145" y="370" width="3" height="6" fill="#ff0000"/><rect x="1150" y="372" width="1" height="13" fill="#32cd32"/><rect x="1149" y="374" width="3" height="2" fill="#32cd32"/><rect x="1154" y="361" width="1" height="15" fill="#32cd32"/><rect x="1153" y="365" width="3" height="10" fill="#32cd32"/><rect x="1158" y="335" width="1" height="32" fill="#32cd32"/><rect x="1157" y="344" width="3" height="23" fill="#32cd32"/><rect x="1162" y="331" width="1" height="19" fill="#32cd32"/><rect x="1161" y="333" width="3" height="13" fill="#32cd32"/><rect x="1166" y="328" width="1" height="27" fill="#ff0000"/><rect x="1165" y="338" width="3" height="10" fill="#ff0000"/><rect x="1170" y="335" width="1" height="18" fill="#32cd32"/><rect x="1169" y="337" width="3" height="11" fill="#32cd32"/></g><g shape-rendering="crispEdges"><rect x="315" y="123" width="7" height="1" fill="#fff"/><rect x="315" y="124" width="7" height="1" fill="#fff"/><rect x="316" y="124" width="5" height="1" fill="#ff5555"/><rect x="315" y="125" width="7" height="1" fill="#fff"/><rect x="316" y="125" width="5" height="1" fill="#ff5555"/><rect x="312" y="126" width="13" height="1" fill="#fff"/><rect x="316" y="126" width="5" height="1" fill="#ff5555"/><rect x="312" y="127" width="13" height="1" fill="#fff"/><rect x="313" y="127" width="11" height="1" fill="#ff5555"/><rect x="313" y="128" width="11" height="1" fill="#fff"/><rect x="314" y="128" width="9" height="1" fill="#ff5555"/><rect x="314" y="129" width="9" height="1" fill="#fff"/><rect x="315" y="129" width="7" height="1" fill="#ff5555"/><rect x="315" y="130" width="7" height="1" fill="#fff"/><rect x="316" y="130" width="5" height="1" fill="#ff5555"/><rect x="316" y="131" width="5" height="1" fill="#fff"/><rect x="317" y="131" width="3" height="1" fill="#ff5555"/><rect x="317" y="132" width="3" height="1" fill="#fff"/><rect x="318" y="132" width="1" height="1" fill="#ff5555"/><rect x="318" y="133" width="1" height="1" fill="#fff"/><rect x="331" y="420" width="7" height="1" fill="#fff"/><rect x="331" y="419" width="7" height="1" fill="#fff"/><rect x="332" y="419" width="5" height="1" fill="#00e676"/><rect x="331" y="418" width="7" height="1" fill="#fff"/><rect x="332" y="418" width="5" height="1" fill="#00e676"/><rect x="328" y="417" width="13" height="1" fill="#fff"/><rect x="332" y="417" width="5" height="1" fill="#00e676"/><rect x="328" y="416" width="13" height="1" fill="#fff"/><rect x="329" y="416" width="11" height="1" fill="#00e676"/><rect x="329" y="415" width="11" height="1" fill="#fff"/><rect x="330" y="415" width="9" height="1" fill="#00e676"/><rect x="330" y="414" width="9" height="1" fill="#fff"/><rect x="331" y="414" width="7" height="1" fill="#00e676"/><rect x="331" y="413" width="7" height="1" fill="#fff"/><rect x="332" y="413" width="5" height="1" fill="#00e676"/><rect x="332" y="412" width="5" height="1" fill="#fff"/><rect x="333" y="412" width="3" height="1" fill="#00e676"/><rect x="333" y="411" width="3" height="1" fill="#fff"/><rect x="334" y="411" width="1" height="1" fill="#00e676"/><rect x="334" y="410" width="1" height="1" fill="#fff"/><rect x="675" y="365" width="7" height="1" fill="#fff"/><rect x="675" y="364" width="7" height="1" fill="#fff"/><rect x="676" y="364" width="5" height="1" fill="#00e676"/><rect x="675" y="363" width="7" height="1" fill="#fff"/><rect x="676" y="363" width="5" height="1" fill="#00e676"/><rect x="672" y="362" width="13" height="1" fill="#fff"/><rect x="676" y="362" width="5" height="1" fill="#00e676"/><rect x="672" y="361" width="13" height="1" fill="#fff"/><rect x="673" y="361" width="11" height="1" fill="#00e676"/><rect x="673" y="360" width="11" height="1" fill="#fff"/><rect x="674" y="360" width="9" height="1" fill="#00e676"/><rect x="674" y="359" width="9" height="1" fill="#fff"/><rect x="675" y="359" width="7" height="1" fill="#00e676"/><rect x="675" y="358" width="7" height="1" fill="#fff"/><rect x="676" y="358" width="5" height="1" fill="#00e676"/><rect x="676" y="357" width="5" height="1" fill="#fff"/><rect x="677" y="357" width="3" height="1" fill="#00e676"/><rect x="677" y="356" width="3" height="1" fill="#fff"/><rect x="678" y="356" width="1" height="1" fill="#00e676"/><rect x="678" y="355" width="1" height="1" fill="#fff"/><rect x="775" y="253" width="7" height="1" fill="#fff"/><rect x="775" y="254" width="7" height="1" fill="#fff"/><rect x="776" y="254" width="5" height="1" fill="#ff5555"/><rect x="775" y="255" width="7" height="1" fill="#fff"/><rect x="776" y="255" width="5" height="1" fill="#ff5555"/><rect x="772" y="256" width="13" height="1" fill="#fff"/><rect x="776" y="256" width="5" height="1" fill="#ff5555"/><rect x="772" y="257" width="13" height="1" fill="#fff"/><rect x="773" y="257" width="11" height="1" fill="#ff5555"/><rect x="773" y="258" width="11" height="1" fill="#fff"/><rect x="774" y="258" width="9" height="1" fill="#ff5555"/><rect x="774" y="259" width="9" height="1" fill="#fff"/><rect x="775" y="259" width="7" height="1" fill="#ff5555"/><rect x="775" y="260" width="7" height="1" fill="#fff"/><rect x="776" y="260" width="5" height="1" fill="#ff5555"/><rect x="776" y="261" width="5" height="1" fill="#fff"/><rect x="777" y="261" width="3" height="1" fill="#ff5555"/><rect x="777" y="262" width="3" height="1" fill="#fff"/><rect x="778" y="262" width="1" height="1" fill="#ff5555"/><rect x="778" y="263" width="1" height="1" fill="#fff"/><rect x="875" y="461" width="7" height="1" fill="#fff"/><rect x="875" y="460" width="7" height="1" fill="#fff"/><rect x="876" y="460" width="5" height="1" fill="#00e676"/><rect x="875" y="459" width="7" height="1" fill="#fff"/><rect x="876" y="459" width="5" height="1" fill="#00e676"/><rect x="872" y="458" width="13" height="1" fill="#fff"/><rect x="876" y="458" width="5" height="1" fill="#00e676"/><rect x="872" y="457" width="13" height="1" fill="#fff"/><rect x="873" y="457" width="11" height="1" fill="#00e676"/><rect x="873" y="456" width="11" height="1" fill="#fff"/><rect x="874" y="456" width="9" height="1" fill="#00e676"/><rect x="874" y="455" width="9" height="1" fill="#fff"/><rect x="875" y="455" width="7" height="1" fill="#00e676"/><rect x="875" y="454" width="7" height="1" fill="#fff"/><rect x="876" y="454" width="5" height="1" fill="#00e676"/><rect x="876" y="453" width="5" height="1" fill="#fff"/><rect x="877" y="453" width="3" height="1" fill="#00e676"/><rect x="877" y="452" width="3" height="1" fill="#fff"/><rect x="878" y="452" width="1" height="1" fill="#00e676"/><rect x="878" y="451" width="1" height="1" fill="#fff"/><rect x="919" y="257" width="7" height="1" fill="#fff"/><rect x="919" y="258" width="7" height="1" fill="#fff"/><rect x="920" y="258" width="5" height="1" fill="#ff5555"/><rect x="919" y="259" width="7" height="1" fill="#fff"/><rect x="920" y="259" width="5" height="1" fill="#ff5555"/><rect x="916" y="260" width="13" height="1" fill="#fff"/><rect x="920" y="260" width="5" height="1" fill="#ff5555"/><rect x="916" y="261" width="13" height="1" fill="#fff"/><rect x="917" y="261" width="11" height="1" fill="#ff5555"/><rect x="917" y="262" width="11" height="1" fill="#fff"/><rect x="918" y="262" width="9" height="1" fill="#ff5555"/><rect x="918" y="263" width="9" height="1" fill="#fff"/><rect x="919" y="263" width="7" height="1" fill="#ff5555"/><rect x="919" y="264" width="7" height="1" fill="#fff"/><rect x="920" y="264" width="5" height="1" fill="#ff5555"/><rect x="920" y="265" width="5" height="1" fill="#fff"/><rect x="921" y="265" width="3" height="1" fill="#ff5555"/><rect x="921" y="266" width="3" height="1" fill="#fff"/><rect x="922" y="266" width="1" height="1" fill="#ff5555"/><rect x="922" y="267" width="1" height="1" fill="#fff"/><rect x="1119" y="432" width="7" height="1" fill="#fff"/><rect x="1119" y="431" width="7" height="1" fill="#fff"/><rect x="1120" y="431" width="5" height="1" fill="#00e676"/><rect x="1119" y="430" width="7" height="1" fill="#fff"/><rect x="1120" y="430" width="5" height="1" fill="#00e676"/><rect x="1116" y="429" width="13" height="1" fill="#fff"/><rect x="1120" y="429" width="5" height="1" fill="#00e676"/><rect x="1116" y="428" width="13" height="1" fill="#fff"/><rect x="1117" y="428" width="11" height="1" fill="#00e676"/><rect x="1117" y="427" width="11" height="1" fill="#fff"/><rect x="1118" y="427" width="9" height="1" fill="#00e676"/><rect x="1118" y="426" width="9" height="1" fill="#fff"/><rect x="1119" y="426" width="7" height="1" fill="#00e676"/><rect x="1119" y="425" width="7" height="1" fill="#fff"/><rect x="1120" y="425" width="5" height="1" fill="#00e676"/><rect x="1120" y="424" width="5" height="1" fill="#fff"/><rect x="1121" y="424" width="3" height="1" fill="#00e676"/><rect x="1121" y="423" width="3" height="1" fill="#fff"/><rect x="1122" y="423" width="1" height="1" fill="#00e676"/><rect x="1122" y="422" width="1" height="1" fill="#fff"/></g><g><line x1="110.5" y1="615.0" x2="318.5" y2="623.6" stroke="#ff5555" stroke-width="2"/><line x1="334.5" y1="721.6" x2="354.5" y2="791.6" stroke="#00e676" stroke-width="2"/><line x1="670.5" y1="834.4" x2="678.5" y2="831.9" stroke="#00e676" stroke-width="2"/><line x1="778.5" y1="716.3" x2="782.5" y2="716.0" stroke="#ff5555" stroke-width="2"/><line x1="878.5" y1="767.3" x2="882.5" y2="771.2" stroke="#00e676" stroke-width="2"/><line x1="922.5" y1="697.1" x2="938.5" y2="683.5" stroke="#ff5555" stroke-width="2"/><line x1="1050.5" y1="751.8" x2="1122.5" y2="744.5" stroke="#00e676" stroke-width="2"/></g><g shape-rendering="crispEdges"><rect x="5" y="705" width="2" height="12" fill="#00e676"/><rect x="9" y="705" width="2" height="12" fill="#00e676"/><rect x="13" y="703" width="2" height="14" fill="#00e676"/><rect x="17" y="701" width="2" height="16" fill="#00e676"/><rect x="21" y="697" width="2" height="20" fill="#00e676"/><rect x="25" y="693" width="2" height="24" fill="#00e676"/><rect x="29" y="693" width="2" height="24" fill="#0a6934"/><rect x="33" y="696" width="2" height="21" fill="#0a6934"/><rect x="37" y="698" width="2" height="19" fill="#0a6934"/><rect x="41" y="700" width="2" height="17" fill="#0a6934"/><rect x="45" y="701" width="2" height="16" fill="#0a6934"/><rect x="49" y="702" width="2" height="15" fill="#0a6934"/><rect x="53" y="702" width="2" height="15" fill="#00e676"/><rect x="57" y="699" width="2" height="18" fill="#00e676"/><rect x="61" y="697" width="2" height="20" fill="#00e676"/><rect x="65" y="696" width="2" height="21" fill="#00e676"/><rect x="69" y="691" width="2" height="26" fill="#00e676"/><rect x="73" y="687" width="2" height="30" fill="#00e676"/><rect x="77" y="686" width="2" height="31" fill="#00e676"/><rect x="81" y="689" width="2" height="28" fill="#0a6934"/><rect x="85" y="692" width="2" height="25" fill="#0a6934"/><rect x="89" y="692" width="2" height="25" fill="#00e676"/><rect x="93" y="691" width="2" height="26" fill="#00e676"/><rect x="97" y="688" width="2" height="29" fill="#00e676"/><rect x="101" y="685" width="2" height="32" fill="#00e676"/><rect x="105" y="684" width="2" height="33" fill="#00e676"/><rect x="109" y="688" width="2" height="29" fill="#0a6934"/><rect x="113" y="695" width="2" height="22" fill="#0a6934"/><rect x="117" y="707" width="2" height="10" fill="#0a6934"/><rect x="121" y="717" width="2" height="2" fill="#ff5252"/><rect x="125" y="717" width="2" height="9" fill="#ff5252"/><rect x="129" y="717" width="2" height="15" fill="#ff5252"/><rect x="133" y="717" width="2" height="19" fill="#ff5252"/><rect x="137" y="717" width="2" height="18" fill="#a82222"/><rect x="141" y="717" width="2" height="11" fill="#a82222"/><rect x="145" y="717" width="2" height="6" fill="#a82222"/><rect x="149" y="717" width="2" height="2" fill="#a82222"/><rect x="153" y="716" width="2" height="1" fill="#00e676"/><rect x="157" y="714" width="2" height="3" fill="#00e676"/><rect x="161" y="715" width="2" height="2" fill="#0a6934"/><rect x="165" y="717" width="2" height="1" fill="#ff5252"/><rect x="169" y="717" width="2" height="4" fill="#ff5252"/><rect x="173" y="717" width="2" height="9" fill="#ff5252"/><rect x="177" y="717" width="2" height="12" fill="#ff5252"/><rect x="181" y="717" width="2" height="13" fill="#ff5252"/><rect x="185" y="717" width="2" height="15" fill="#ff5252"/><rect x="189" y="717" width="2" height="18" fill="#ff5252"/><rect x="193" y="717" width="2" height="20" fill="#ff5252"/><rect x="197" y="717" width="2" height="19" fill="#a82222"/><rect x="201" y="717" width="2" height="18" fill="#a82222"/><rect x="205" y="717" width="2" height="20" fill="#ff5252"/><rect x="209" y="717" width="2" height="18" fill="#a82222"/><rect x="213" y="717" width="2" height="13" fill="#a82222"/><rect x="217" y="717" width="2" height="12" fill="#a82222"/><rect x="221" y="717" width="2" height="9" fill="#a82222"/><rect x="225" y="717" width="2" height="5" fill="#a82222"/><rect x="229" y="717" width="2" height="4" fill="#a82222"/><rect x="233" y="717" width="2" height="3" fill="#a82222"/><rect x="237" y="716" width="2" height="1" fill="#00e676"/><rect x="241" y="713" width="2" height="4" fill="#00e676"/><rect x="245" y="712" width="2" height="5" fill="#00e676"/><rect x="249" y="712" width="2" height="5" fill="#00e676"/><rect x="253" y="711" width="2" height="6" fill="#00e676"/><rect x="257" y="707" width="2" height="10" fill="#00e676"/><rect x="261" y="705" width="2" height="12" fill="#00e676"/><rect x="265" y="702" width="2" height="15" fill="#00e676"/><rect x="269" y="698" width="2" height="19" fill="#00e676"/><rect x="273" y="703" width="2" height="14" fill="#0a6934"/><rect x="277" y="703" width="2" height="14" fill="#00e676"/><rect x="281" y="697" width="2" height="20" fill="#00e676"/><rect x="285" y="695" width="2" height="22" fill="#00e676"/><rect x="289" y="700" width="2" height="17" fill="#0a6934"/><rect x="293" y="704" width="2" height="13" fill="#0a6934"/><rect x="297" y="703" width="2" height="14" fill="#00e676"/><rect x="301" y="703" width="2" height="14" fill="#00e676"/><rect x="305" y="703" width="2" height="14" fill="#0a6934"/><rect x="309" y="703" width="2" height="14" fill="#00e676"/><rect x="313" y="704" width="2" height="13" fill="#0a6934"/><rect x="317" y="704" width="2" height="13" fill="#00e676"/><rect x="321" y="714" width="2" height="3" fill="#00e676"/><rect x="325" y="717" width="2" height="16" fill="#ff5252"/><rect x="329" y="717" width="2" height="46" fill="#ff5252"/><rect x="333" y="717" width="2" height="72" fill="#ff5252"/><rect x="337" y="717" width="2" height="85" fill="#ff5252"/><rect x="341" y="717" width="2" height="88" fill="#ff5252"/><rect x="345" y="717" width="2" height="88" fill="#ff5252"/><rect x="349" y="717" width="2" height="80" fill="#a82222"/><rect x="353" y="717" width="2" height="62" fill="#a82222"/><rect x="357" y="717" width="2" height="37" fill="#a82222"/><rect x="361" y="717" width="2" height="11" fill="#a82222"/><rect x="365" y="708" width="2" height="9" fill="#00e676"/><rect x="369" y="692" width="2" height="25" fill="#00e676"/><rect x="373" y="680" width="2" height="37" fill="#00e676"/><rect x="377" y="667" width="2" height="50" fill="#00e676"/><rect x="381" y="660" width="2" height="57" fill="#00e676"/><rect x="385" y="660" width="2" height="57" fill="#0a6934"/><rect x="389" y="664" width="2" height="53" fill="#0a6934"/><rect x="393" y="674" width="2" height="43" fill="#0a6934"/><rect x="397" y="679" width="2" height="38" fill="#0a6934"/><rect x="401" y="684" width="2" height="33" fill="#0a6934"/><rect x="405" y="697" width="2" height="20" fill="#0a6934"/><rect x="409" y="711" width="2" height="6" fill="#0a6934"/><rect x="413" y="717" width="2" height="1" fill="#ff5252"/><rect x="417" y="717" width="2" height="1" fill="#ff5252"/><rect x="421" y="714" width="2" height="3" fill="#00e676"/><rect x="425" y="705" width="2" height="12" fill="#00e676"/><rect x="429" y="698" width="2" height="19" fill="#00e676"/><rect x="433" y="694" width="2" height="23" fill="#00e676"/><rect x="437" y="691" width="2" height="26" fill="#00e676"/><rect x="441" y="690" width="2" height="27" fill="#00e676"/><rect x="445" y="693" width="2" height="24" fill="#0a6934"/><rect x="449" y="689" width="2" height="28" fill="#00e676"/><rect x="453" y="689" width="2" height="28" fill="#00e676"/><rect x="457" y="693" width="2" height="24" fill="#0a6934"/><rect x="461" y="695" width="2" height="22" fill="#0a6934"/><rect x="465" y="702" width="2" height="15" fill="#0a6934"/><rect x="469" y="714" width="2" height="3" fill="#0a6934"/><rect x="473" y="717" width="2" height="8" fill="#ff5252"/><rect x="477" y="717" width="2" height="15" fill="#ff5252"/><rect x="481" y="717" width="2" height="21" fill="#ff5252"/><rect x="485" y="717" width="2" height="21" fill="#a82222"/><rect x="489" y="717" width="2" height="16" fill="#a82222"/><rect x="493" y="717" width="2" height="14" fill="#a82222"/><rect x="497" y="717" width="2" height="14" fill="#ff5252"/><rect x="501" y="717" width="2" height="19" fill="#ff5252"/><rect x="505" y="717" width="2" height="23" fill="#ff5252"/><rect x="509" y="717" width="2" height="21" fill="#a82222"/><rect x="513" y="717" width="2" height="18" fill="#a82222"/><rect x="517" y="717" width="2" height="16" fill="#a82222"/><rect x="521" y="717" width="2" height="16" fill="#a82222"/><rect x="525" y="717" width="2" height="14" fill="#a82222"/><rect x="529" y="717" width="2" height="10" fill="#a82222"/><rect x="533" y="717" width="2" height="7" fill="#a82222"/><rect x="537" y="717" width="2" height="8" fill="#ff5252"/><rect x="541" y="717" width="2" height="10" fill="#ff5252"/><rect x="545" y="717" width="2" height="9" fill="#a82222"/><rect x="549" y="717" width="2" height="15" fill="#ff5252"/><rect x="553" y="717" width="2" height="25" fill="#ff5252"/><rect x="557" y="717" width="2" height="36" fill="#ff5252"/><rect x="561" y="717" width="2" height="44" fill="#ff5252"/><rect x="565" y="717" width="2" height="44" fill="#ff5252"/><rect x="569" y="717" width="2" height="37" fill="#a82222"/><rect x="573" y="717" width="2" height="33" fill="#a82222"/><rect x="577" y="717" width="2" height="32" fill="#a82222"/><rect x="581" y="717" width="2" height="30" fill="#a82222"/><rect x="585" y="717" width="2" height="26" fill="#a82222"/><rect x="589" y="717" width="2" height="19" fill="#a82222"/><rect x="593" y="717" width="2" height="10" fill="#a82222"/><rect x="597" y="717" width="2" height="3" fill="#a82222"/><rect x="601" y="715" width="2" height="2" fill="#00e676"/><rect x="605" y="710" width="2" height="7" fill="#00e676"/><rect x="609" y="707" width="2" height="10" fill="#00e676"/><rect x="613" y="709" width="2" height="8" fill="#0a6934"/><rect x="617" y="715" width="2" height="2" fill="#0a6934"/><rect x="621" y="717" width="2" height="5" fill="#ff5252"/><rect x="625" y="717" width="2" height="13" fill="#ff5252"/><rect x="629" y="717" width="2" height="22" fill="#ff5252"/><rect x="633" y="717" width="2" height="30" fill="#ff5252"/><rect x="637" y="717" width="2" height="33" fill="#ff5252"/><rect x="641" y="717" width="2" height="32" fill="#a82222"/><rect x="645" y="717" width="2" height="27" fill="#a82222"/><rect x="649" y="717" width="2" height="23" fill="#a82222"/><rect x="653" y="717" width="2" height="21" fill="#a82222"/><rect x="657" y="717" width="2" height="20" fill="#a82222"/><rect x="661" y="717" width="2" height="20" fill="#a82222"/><rect x="665" y="717" width="2" height="17" fill="#a82222"/><rect x="669" y="717" width="2" height="13" fill="#a82222"/><rect x="673" y="717" width="2" height="8" fill="#a82222"/><rect x="677" y="717" width="2" height="5" fill="#a82222"/><rect x="681" y="717" width="2" height="1" fill="#a82222"/><rect x="685" y="710" width="2" height="7" fill="#00e676"/><rect x="689" y="700" width="2" height="17" fill="#00e676"/><rect x="693" y="696" width="2" height="21" fill="#00e676"/><rect x="697" y="694" width="2" height="23" fill="#00e676"/><rect x="701" y="691" width="2" height="26" fill="#00e676"/><rect x="705" y="689" width="2" height="28" fill="#00e676"/><rect x="709" y="689" width="2" height="28" fill="#00e676"/><rect x="713" y="690" width="2" height="27" fill="#0a6934"/><rect x="717" y="692" width="2" height="25" fill="#0a6934"/><rect x="721" y="698" width="2" height="19" fill="#0a6934"/><rect x="725" y="701" width="2" height="16" fill="#0a6934"/><rect x="729" y="700" width="2" height="17" fill="#00e676"/><rect x="733" y="700" width="2" height="17" fill="#0a6934"/><rect x="737" y="702" width="2" height="15" fill="#0a6934"/><rect x="741" y="704" width="2" height="13" fill="#0a6934"/><rect x="745" y="705" width="2" height="12" fill="#0a6934"/><rect x="749" y="701" width="2" height="16" fill="#00e676"/><rect x="753" y="698" width="2" height="19" fill="#00e676"/><rect x="757" y="696" width="2" height="21" fill="#00e676"/><rect x="761" y="698" width="2" height="19" fill="#0a6934"/><rect x="765" y="703" width="2" height="14" fill="#0a6934"/><rect x="769" y="706" width="2" height="11" fill="#0a6934"/><rect x="773" y="704" width="2" height="13" fill="#00e676"/><rect x="777" y="705" width="2" height="12" fill="#0a6934"/><rect x="781" y="708" width="2" height="9" fill="#0a6934"/><rect x="785" y="712" width="2" height="5" fill="#0a6934"/><rect x="789" y="716" width="2" height="1" fill="#0a6934"/><rect x="793" y="717" width="2" height="3" fill="#ff5252"/><rect x="797" y="717" width="2" height="6" fill="#ff5252"/><rect x="801" y="717" width="2" height="10" fill="#ff5252"/><rect x="805" y="717" width="2" height="13" fill="#ff5252"/><rect x="809" y="717" width="2" height="16" fill="#ff5252"/><rect x="813" y="717" width="2" height="15" fill="#a82222"/><rect x="817" y="717" width="2" height="13" fill="#a82222"/><rect x="821" y="717" width="2" height="13" fill="#ff5252"/><rect x="825" y="717" width="2" height="11" fill="#a82222"/><rect x="829" y="717" width="2" height="9" fill="#a82222"/><rect x="833" y="717" width="2" height="6" fill="#a82222"/><rect x="837" y="717" width="2" height="6" fill="#a82222"/><rect x="841" y="717" width="2" height="6" fill="#a82222"/><rect x="845" y="717" width="2" height="5" fill="#a82222"/><rect x="849" y="717" width="2" height="6" fill="#ff5252"/><rect x="853" y="717" width="2" height="6" fill="#a82222"/><rect x="857" y="717" width="2" height="5" fill="#a82222"/><rect x="861" y="717" width="2" height="4" fill="#a82222"/><rect x="865" y="717" width="2" height="1" fill="#a82222"/><rect x="869" y="716" width="2" height="1" fill="#00e676"/><rect x="873" y="717" width="2" height="1" fill="#ff5252"/><rect x="877" y="717" width="2" height="9" fill="#ff5252"/><rect x="881" y="717" width="2" height="11" fill="#ff5252"/><rect x="885" y="717" width="2" height="8" fill="#a82222"/><rect x="889" y="717" width="2" height="1" fill="#a82222"/><rect x="893" y="709" width="2" height="8" fill="#00e676"/><rect x="897" y="701" width="2" height="16" fill="#00e676"/><rect x="901" y="695" width="2" height="22" fill="#00e676"/><rect x="905" y="693" width="2" height="24" fill="#00e676"/><rect x="909" y="691" width="2" height="26" fill="#00e676"/><rect x="913" y="688" width="2" height="29" fill="#00e676"/><rect x="917" y="685" width="2" height="32" fill="#00e676"/><rect x="921" y="684" width="2" height="33" fill="#00e676"/><rect x="925" y="686" width="2" height="31" fill="#0a6934"/><rect x="929" y="690" width="2" height="27" fill="#0a6934"/><rect x="933" y="693" width="2" height="24" fill="#0a6934"/><rect x="937" y="698" width="2" height="19" fill="#0a6934"/><rect x="941" y="706" width="2" height="11" fill="#0a6934"/><rect x="945" y="715" width="2" height="2" fill="#0a6934"/><rect x="949" y="717" width="2" height="4" fill="#ff5252"/><rect x="953" y="717" width="2" height="7" fill="#ff5252"/><rect x="957" y="717" width="2" height="10" fill="#ff5252"/><rect x="961" y="717" width="2" height="13" fill="#ff5252"/><rect x="965" y="717" width="2" height="15" fill="#ff5252"/><rect x="969" y="717" width="2" height="15" fill="#a82222"/><rect x="973" y="717" width="2" height="11" fill="#a82222"/><rect x="977" y="717" width="2" height="8" fill="#a82222"/><rect x="981" y="717" width="2" height="9" fill="#ff5252"/><rect x="985" y="717" width="2" height="10" fill="#ff5252"/><rect x="989" y="717" width="2" height="13" fill="#ff5252"/><rect x="993" y="717" width="2" height="12" fill="#a82222"/><rect x="997" y="717" width="2" height="16" fill="#ff5252"/><rect x="1001" y="717" width="2" height="22" fill="#ff5252"/><rect x="1005" y="717" width="2" height="22" fill="#ff5252"/><rect x="1009" y="717" width="2" height="18" fill="#a82222"/><rect x="1013" y="717" width="2" height="11" fill="#a82222"/><rect x="1017" y="717" width="2" height="5" fill="#a82222"/><rect x="1021" y="717" width="2" height="4" fill="#a82222"/><rect x="1025" y="717" width="2" height="2" fill="#a82222"/><rect x="1029" y="717" width="2" height="1" fill="#a82222"/><rect x="1033" y="716" width="2" height="1" fill="#00e676"/><rect x="1037" y="715" width="2" height="2" fill="#00e676"/><rect x="1041" y="717" width="2" height="1" fill="#ff5252"/><rect x="1045" y="717" width="2" height="3" fill="#ff5252"/><rect x="1049" y="717" width="2" height="5" fill="#ff5252"/><rect x="1053" y="717" width="2" height="4" fill="#a82222"/><rect x="1057" y="717" width="2" height="1" fill="#a82222"/><rect x="1061" y="714" width="2" height="3" fill="#00e676"/><rect x="1065" y="714" width="2" height="3" fill="#0a6934"/><rect x="1069" y="713" width="2" height="4" fill="#00e676"/><rect x="1073" y="713" width="2" height="4" fill="#00e676"/><rect x="1077" y="712" width="2" height="5" fill="#00e676"/><rect x="1081" y="711" width="2" height="6" fill="#00e676"/><rect x="1085" y="710" width="2" height="7" fill="#00e676"/><rect x="1089" y="711" width="2" height="6" fill="#0a6934"/><rect x="1093" y="709" width="2" height="8" fill="#00e676"/><rect x="1097" y="708" width="2" height="9" fill="#00e676"/><rect x="1101" y="710" width="2" height="7" fill="#0a6934"/><rect x="1105" y="715" width="2" height="2" fill="#0a6934"/><rect x="1109" y="717" width="2" height="3" fill="#ff5252"/><rect x="1113" y="717" width="2" height="6" fill="#ff5252"/><rect x="1117" y="717" width="2" height="7" fill="#ff5252"/><rect x="1121" y="717" width="2" height="9" fill="#ff5252"/><rect x="1125" y="717" width="2" height="5" fill="#a82222"/><rect x="1129" y="717" width="2" height="2" fill="#a82222"/><rect x="1133" y="715" width="2" height="2" fill="#00e676"/><rect x="1137" y="712" width="2" height="5" fill="#00e676"/><rect x="1141" y="709" width="2" height="8" fill="#00e676"/><rect x="1145" y="708" width="2" height="9" fill="#00e676"/><rect x="1149" y="709" width="2" height="8" fill="#0a6934"/><rect x="1153" y="707" width="2" height="10" fill="#00e676"/><rect x="1157" y="704" width="2" height="13" fill="#00e676"/><rect x="1161" y="700" width="2" height="17" fill="#00e676"/><rect x="1165" y="699" width="2" height="18" fill="#00e676"/><rect x="1169" y="699" width="2" height="18" fill="#0a6934"/><line x1="3" y1="717.5" x2="1475" y2="717.5" stroke="#3a3a4e" stroke-width="1" stroke-dasharray="3 3"/></g><polyline points="2.5,773.0 6.5,769.3 10.5,766.5 14.5,761.6 18.5,755.7 22.5,748.1 26.5,739.4 30.5,734.6 34.5,732.9 38.5,730.2 42.5,727.3 46.5,723.3 50.5,719.9 54.5,714.7 58.5,708.0 62.5,701.7 66.5,695.9 70.5,686.2 74.5,676.3 78.5,668.6 82.5,665.5 86.5,661.8 90.5,654.4 94.5,646.6 98.5,637.1 102.5,626.5 106.5,617.1 110.5,615.0 114.5,616.2 118.5,623.5 122.5,631.8 126.5,636.8 130.5,642.1 134.5,647.8 138.5,648.6 142.5,644.7 146.5,643.2 150.5,642.5 154.5,641.1 158.5,640.1 162.5,641.6 166.5,644.7 170.5,648.3 174.5,653.8 178.5,657.6 182.5,660.7 186.5,665.4 190.5,672.3 194.5,677.6 198.5,681.6 202.5,685.0 206.5,691.2 210.5,694.7 214.5,693.6 218.5,696.4 222.5,696.8 226.5,695.8 230.5,696.2 234.5,696.7 238.5,694.6 242.5,690.8 246.5,689.3 250.5,688.6 254.5,687.3 258.5,681.5 262.5,676.9 266.5,671.6 270.5,663.7 274.5,666.0 278.5,662.7 282.5,652.7 286.5,645.9 290.5,646.2 294.5,646.5 298.5,641.1 302.5,637.2 306.5,634.1 310.5,629.7 314.5,626.8 318.5,623.6 322.5,632.6 326.5,652.4 330.5,687.0 334.5,721.6 338.5,746.1 342.5,763.5 346.5,780.6 350.5,791.2 354.5,791.6 358.5,783.1 362.5,770.0 366.5,758.9 370.5,745.3 374.5,730.9 378.5,713.1 382.5,696.1 386.5,685.0 390.5,676.1 394.5,673.3 398.5,667.5 402.5,660.9 406.5,665.5 410.5,672.8 414.5,675.6 418.5,673.6 422.5,667.4 426.5,656.2 430.5,646.6 434.5,639.5 438.5,632.9 442.5,627.8 446.5,625.4 450.5,615.2 454.5,607.1 458.5,604.2 462.5,599.8 466.5,602.5 470.5,610.6 474.5,620.1 478.5,627.9 482.5,635.0 486.5,636.8 490.5,634.6 494.5,636.2 498.5,641.6 502.5,651.4 506.5,661.9 510.5,664.4 514.5,665.1 518.5,667.0 522.5,670.8 526.5,672.6 530.5,673.4 534.5,674.3 538.5,678.0 542.5,681.5 546.5,683.2 550.5,691.9 554.5,706.8 558.5,723.6 562.5,738.1 566.5,746.4 570.5,747.9 574.5,752.3 578.5,760.0 582.5,767.4 586.5,772.2 590.5,772.4 594.5,768.1 598.5,764.6 602.5,760.8 606.5,756.6 610.5,754.2 614.5,755.9 618.5,760.9 622.5,767.1 626.5,775.8 630.5,786.7 634.5,798.2 638.5,806.6 642.5,811.4 646.5,812.7 650.5,815.4 654.5,819.8 658.5,826.1 662.5,832.0 666.5,833.8 670.5,834.4 674.5,832.1 678.5,831.9 682.5,829.6 686.5,821.9 690.5,810.9 694.5,804.7 698.5,799.0 702.5,791.7 706.5,784.0 710.5,777.7 714.5,771.6 718.5,767.3 722.5,767.5 726.5,765.5 730.5,759.3 734.5,754.4 738.5,751.4 742.5,750.2 746.5,747.3 750.5,740.4 754.5,733.1 758.5,726.6 762.5,724.4 766.5,724.8 770.5,724.4 774.5,719.5 778.5,716.3 782.5,716.0 786.5,717.3 790.5,720.8 794.5,723.7 798.5,727.5 802.5,731.8 806.5,736.6 810.5,741.3 814.5,743.4 818.5,744.9 822.5,748.8 826.5,749.1 830.5,750.1 834.5,750.5 838.5,752.3 842.5,754.0 846.5,754.5 850.5,757.3 854.5,758.7 858.5,759.3 862.5,758.6 866.5,756.7 870.5,755.5 874.5,758.0 878.5,767.3 882.5,771.2 886.5,769.8 890.5,762.9 894.5,754.0 898.5,743.7 902.5,735.8 906.5,730.7 910.5,725.5 914.5,716.0 918.5,706.0 922.5,697.1 926.5,691.6 930.5,688.0 934.5,683.9 938.5,683.5 942.5,686.3 946.5,691.7 950.5,695.3 954.5,697.7 958.5,700.9 962.5,706.1 966.5,710.2 970.5,713.3 974.5,712.7 978.5,712.2 982.5,716.7 986.5,719.9 990.5,725.7 994.5,728.2 998.5,735.4 1002.5,745.1 1006.5,749.6 1010.5,749.3 1014.5,746.3 1018.5,743.4 1022.5,744.8 1026.5,745.5 1030.5,746.4 1034.5,746.0 1038.5,744.4 1042.5,746.1 1046.5,748.8 1050.5,751.8 1054.5,751.5 1058.5,747.7 1062.5,744.6 1066.5,744.4 1070.5,743.3 1074.5,743.1 1078.5,741.2 1082.5,738.7 1086.5,736.5 1090.5,735.5 1094.5,731.5 1098.5,728.8 1102.5,729.3 1106.5,732.9 1110.5,737.4 1114.5,740.4 1118.5,741.9 1122.5,744.5 1126.5,742.0 1130.5,739.3 1134.5,736.3 1138.5,734.2 1142.5,730.7 1146.5,728.8 1150.5,727.7 1154.5,724.6 1158.5,718.3 1162.5,711.2 1166.5,705.9 1170.5,702.4" fill="none" stroke="#00aaff" stroke-width="1.9" stroke-linejoin="round"/><g fill="#ff9800" shape-rendering="crispEdges"><rect x="473" y="612" width="2" height="1"/><rect x="478" y="612" width="2" height="1"/><rect x="472" y="613" width="1" height="1"/><rect x="480" y="613" width="1" height="1"/><rect x="484" y="614" width="1" height="1"/><rect x="468" y="615" width="1" height="1"/><rect x="485" y="615" width="1" height="1"/><rect x="467" y="616" width="1" height="1"/><rect x="486" y="616" width="1" height="1"/><rect x="466" y="617" width="1" height="1"/><rect x="490" y="619" width="2" height="1"/><rect x="492" y="620" width="1" height="1"/><rect x="463" y="621" width="1" height="1"/><rect x="462" y="622" width="1" height="1"/><rect x="461" y="623" width="1" height="1"/><rect x="496" y="624" width="1" height="1"/><rect x="496" y="625" width="1" height="1"/><rect x="497" y="626" width="1" height="1"/><rect x="129" y="627" width="3" height="1"/><rect x="459" y="627" width="1" height="1"/><rect x="124" y="628" width="2" height="1"/><rect x="458" y="628" width="1" height="1"/><rect x="123" y="629" width="1" height="1"/><rect x="135" y="629" width="2" height="1"/><rect x="457" y="629" width="1" height="1"/><rect x="137" y="630" width="1" height="1"/><rect x="500" y="630" width="1" height="1"/><rect x="501" y="631" width="1" height="1"/><rect x="119" y="632" width="1" height="1"/><rect x="502" y="632" width="1" height="1"/><rect x="117" y="633" width="2" height="1"/><rect x="141" y="633" width="1" height="1"/><rect x="455" y="633" width="1" height="1"/><rect x="142" y="634" width="2" height="1"/><rect x="455" y="634" width="1" height="1"/><rect x="323" y="635" width="3" height="1"/><rect x="454" y="635" width="1" height="1"/><rect x="318" y="636" width="2" height="1"/><rect x="505" y="636" width="1" height="1"/><rect x="114" y="637" width="1" height="1"/><rect x="147" y="637" width="1" height="1"/><rect x="317" y="637" width="1" height="1"/><rect x="505" y="637" width="1" height="1"/><rect x="113" y="638" width="1" height="1"/><rect x="148" y="638" width="1" height="1"/><rect x="329" y="638" width="1" height="1"/><rect x="506" y="638" width="1" height="1"/><rect x="113" y="639" width="1" height="1"/><rect x="149" y="639" width="1" height="1"/><rect x="452" y="639" width="1" height="1"/><rect x="330" y="640" width="1" height="1"/><rect x="451" y="640" width="1" height="1"/><rect x="153" y="641" width="1" height="1"/><rect x="313" y="641" width="1" height="1"/><rect x="330" y="641" width="1" height="1"/><rect x="451" y="641" width="1" height="1"/><rect x="154" y="642" width="2" height="1"/><rect x="312" y="642" width="1" height="1"/><rect x="509" y="642" width="1" height="1"/><rect x="110" y="643" width="1" height="1"/><rect x="159" y="643" width="3" height="1"/><rect x="165" y="643" width="3" height="1"/><rect x="311" y="643" width="1" height="1"/><rect x="510" y="643" width="1" height="1"/><rect x="109" y="644" width="1" height="1"/><rect x="171" y="644" width="3" height="1"/><rect x="511" y="644" width="1" height="1"/><rect x="109" y="645" width="1" height="1"/><rect x="177" y="645" width="2" height="1"/><rect x="332" y="645" width="1" height="1"/><rect x="448" y="645" width="1" height="1"/><rect x="179" y="646" width="1" height="1"/><rect x="333" y="646" width="1" height="1"/><rect x="448" y="646" width="1" height="1"/><rect x="307" y="647" width="1" height="1"/><rect x="333" y="647" width="1" height="1"/><rect x="447" y="647" width="1" height="1"/><rect x="183" y="648" width="1" height="1"/><rect x="305" y="648" width="2" height="1"/><rect x="515" y="648" width="1" height="1"/><rect x="107" y="649" width="1" height="1"/><rect x="184" y="649" width="2" height="1"/><rect x="516" y="649" width="1" height="1"/><rect x="106" y="650" width="1" height="1"/><rect x="517" y="650" width="1" height="1"/><rect x="106" y="651" width="1" height="1"/><rect x="335" y="651" width="1" height="1"/><rect x="444" y="651" width="1" height="1"/><rect x="189" y="652" width="1" height="1"/><rect x="301" y="652" width="1" height="1"/><rect x="335" y="652" width="1" height="1"/><rect x="444" y="652" width="1" height="1"/><rect x="190" y="653" width="1" height="1"/><rect x="300" y="653" width="1" height="1"/><rect x="335" y="653" width="1" height="1"/><rect x="443" y="653" width="1" height="1"/><rect x="521" y="653" width="1" height="1"/><rect x="191" y="654" width="1" height="1"/><rect x="299" y="654" width="1" height="1"/><rect x="522" y="654" width="1" height="1"/><rect x="104" y="655" width="1" height="1"/><rect x="523" y="655" width="1" height="1"/><rect x="103" y="656" width="1" height="1"/><rect x="102" y="657" width="1" height="1"/><rect x="337" y="657" width="1" height="1"/><rect x="439" y="657" width="1" height="1"/><rect x="195" y="658" width="1" height="1"/><rect x="295" y="658" width="1" height="1"/><rect x="337" y="658" width="1" height="1"/><rect x="438" y="658" width="1" height="1"/><rect x="196" y="659" width="1" height="1"/><rect x="294" y="659" width="1" height="1"/><rect x="337" y="659" width="1" height="1"/><rect x="437" y="659" width="1" height="1"/><rect x="527" y="659" width="1" height="1"/><rect x="100" y="660" width="1" height="1"/><rect x="197" y="660" width="1" height="1"/><rect x="293" y="660" width="1" height="1"/><rect x="528" y="660" width="1" height="1"/><rect x="100" y="661" width="1" height="1"/><rect x="529" y="661" width="1" height="1"/><rect x="100" y="662" width="1" height="1"/><rect x="433" y="662" width="1" height="1"/><rect x="289" y="663" width="1" height="1"/><rect x="339" y="663" width="1" height="1"/><rect x="432" y="663" width="1" height="1"/><rect x="288" y="664" width="1" height="1"/><rect x="339" y="664" width="1" height="1"/><rect x="431" y="664" width="1" height="1"/><rect x="201" y="665" width="1" height="1"/><rect x="288" y="665" width="1" height="1"/><rect x="339" y="665" width="1" height="1"/><rect x="533" y="665" width="1" height="1"/><rect x="202" y="666" width="1" height="1"/><rect x="534" y="666" width="1" height="1"/><rect x="97" y="667" width="1" height="1"/><rect x="203" y="667" width="1" height="1"/><rect x="427" y="667" width="1" height="1"/><rect x="535" y="667" width="1" height="1"/><rect x="97" y="668" width="1" height="1"/><rect x="425" y="668" width="2" height="1"/><rect x="96" y="669" width="1" height="1"/><rect x="284" y="669" width="1" height="1"/><rect x="340" y="669" width="1" height="1"/><rect x="284" y="670" width="1" height="1"/><rect x="341" y="670" width="1" height="1"/><rect x="421" y="670" width="1" height="1"/><rect x="539" y="670" width="2" height="1"/><rect x="206" y="671" width="1" height="1"/><rect x="283" y="671" width="1" height="1"/><rect x="341" y="671" width="1" height="1"/><rect x="419" y="671" width="2" height="1"/><rect x="541" y="671" width="1" height="1"/><rect x="207" y="672" width="1" height="1"/><rect x="93" y="673" width="2" height="1"/><rect x="208" y="673" width="1" height="1"/><rect x="545" y="673" width="2" height="1"/><rect x="93" y="674" width="1" height="1"/><rect x="414" y="674" width="2" height="1"/><rect x="547" y="674" width="1" height="1"/><rect x="279" y="675" width="1" height="1"/><rect x="342" y="675" width="1" height="1"/><rect x="413" y="675" width="1" height="1"/><rect x="278" y="676" width="1" height="1"/><rect x="342" y="676" width="1" height="1"/><rect x="211" y="677" width="1" height="1"/><rect x="277" y="677" width="1" height="1"/><rect x="342" y="677" width="1" height="1"/><rect x="551" y="677" width="1" height="1"/><rect x="91" y="678" width="1" height="1"/><rect x="212" y="678" width="1" height="1"/><rect x="552" y="678" width="1" height="1"/><rect x="90" y="679" width="1" height="1"/><rect x="213" y="679" width="1" height="1"/><rect x="553" y="679" width="1" height="1"/><rect x="89" y="680" width="1" height="1"/><rect x="273" y="680" width="1" height="1"/><rect x="409" y="680" width="1" height="1"/><rect x="271" y="681" width="2" height="1"/><rect x="343" y="681" width="1" height="1"/><rect x="409" y="681" width="1" height="1"/><rect x="344" y="682" width="1" height="1"/><rect x="408" y="682" width="1" height="1"/><rect x="217" y="683" width="1" height="1"/><rect x="344" y="683" width="1" height="1"/><rect x="87" y="684" width="1" height="1"/><rect x="218" y="684" width="1" height="1"/><rect x="556" y="684" width="1" height="1"/><rect x="87" y="685" width="1" height="1"/><rect x="219" y="685" width="1" height="1"/><rect x="267" y="685" width="1" height="1"/><rect x="557" y="685" width="1" height="1"/><rect x="86" y="686" width="1" height="1"/><rect x="266" y="686" width="1" height="1"/><rect x="406" y="686" width="1" height="1"/><rect x="557" y="686" width="1" height="1"/><rect x="265" y="687" width="1" height="1"/><rect x="345" y="687" width="1" height="1"/><rect x="405" y="687" width="1" height="1"/><rect x="223" y="688" width="2" height="1"/><rect x="345" y="688" width="1" height="1"/><rect x="405" y="688" width="1" height="1"/><rect x="225" y="689" width="1" height="1"/><rect x="261" y="689" width="1" height="1"/><rect x="345" y="689" width="1" height="1"/><rect x="83" y="690" width="1" height="1"/><rect x="259" y="690" width="2" height="1"/><rect x="560" y="690" width="1" height="1"/><rect x="955" y="690" width="3" height="1"/><rect x="83" y="691" width="1" height="1"/><rect x="229" y="691" width="1" height="1"/><rect x="560" y="691" width="1" height="1"/><rect x="950" y="691" width="2" height="1"/><rect x="82" y="692" width="1" height="1"/><rect x="230" y="692" width="2" height="1"/><rect x="254" y="692" width="2" height="1"/><rect x="403" y="692" width="1" height="1"/><rect x="561" y="692" width="1" height="1"/><rect x="949" y="692" width="1" height="1"/><rect x="961" y="692" width="2" height="1"/><rect x="253" y="693" width="1" height="1"/><rect x="346" y="693" width="1" height="1"/><rect x="402" y="693" width="1" height="1"/><rect x="963" y="693" width="1" height="1"/><rect x="235" y="694" width="3" height="1"/><rect x="243" y="694" width="1" height="1"/><rect x="247" y="694" width="3" height="1"/><rect x="346" y="694" width="1" height="1"/><rect x="402" y="694" width="1" height="1"/><rect x="945" y="694" width="1" height="1"/><rect x="241" y="695" width="2" height="1"/><rect x="347" y="695" width="1" height="1"/><rect x="944" y="695" width="1" height="1"/><rect x="967" y="695" width="1" height="1"/><rect x="563" y="696" width="1" height="1"/><rect x="943" y="696" width="1" height="1"/><rect x="968" y="696" width="1" height="1"/><rect x="79" y="697" width="1" height="1"/><rect x="564" y="697" width="1" height="1"/><rect x="969" y="697" width="1" height="1"/><rect x="79" y="698" width="1" height="1"/><rect x="401" y="698" width="1" height="1"/><rect x="564" y="698" width="1" height="1"/><rect x="78" y="699" width="1" height="1"/><rect x="348" y="699" width="1" height="1"/><rect x="400" y="699" width="1" height="1"/><rect x="348" y="700" width="1" height="1"/><rect x="400" y="700" width="1" height="1"/><rect x="940" y="700" width="1" height="1"/><rect x="973" y="700" width="1" height="1"/><rect x="348" y="701" width="1" height="1"/><rect x="939" y="701" width="1" height="1"/><rect x="974" y="701" width="1" height="1"/><rect x="76" y="702" width="1" height="1"/><rect x="566" y="702" width="1" height="1"/><rect x="938" y="702" width="1" height="1"/><rect x="975" y="702" width="1" height="1"/><rect x="75" y="703" width="1" height="1"/><rect x="566" y="703" width="1" height="1"/><rect x="75" y="704" width="1" height="1"/><rect x="398" y="704" width="1" height="1"/><rect x="567" y="704" width="1" height="1"/><rect x="349" y="705" width="1" height="1"/><rect x="398" y="705" width="1" height="1"/><rect x="979" y="705" width="2" height="1"/><rect x="349" y="706" width="1" height="1"/><rect x="398" y="706" width="1" height="1"/><rect x="935" y="706" width="1" height="1"/><rect x="981" y="706" width="1" height="1"/><rect x="349" y="707" width="1" height="1"/><rect x="935" y="707" width="1" height="1"/><rect x="72" y="708" width="1" height="1"/><rect x="569" y="708" width="1" height="1"/><rect x="934" y="708" width="1" height="1"/><rect x="71" y="709" width="1" height="1"/><rect x="570" y="709" width="1" height="1"/><rect x="985" y="709" width="2" height="1"/><rect x="71" y="710" width="1" height="1"/><rect x="396" y="710" width="1" height="1"/><rect x="570" y="710" width="1" height="1"/><rect x="987" y="710" width="1" height="1"/><rect x="350" y="711" width="1" height="1"/><rect x="396" y="711" width="1" height="1"/><rect x="932" y="711" width="1" height="1"/><rect x="350" y="712" width="1" height="1"/><rect x="395" y="712" width="1" height="1"/><rect x="931" y="712" width="1" height="1"/><rect x="351" y="713" width="1" height="1"/><rect x="931" y="713" width="1" height="1"/><rect x="991" y="713" width="1" height="1"/><rect x="572" y="714" width="1" height="1"/><rect x="992" y="714" width="1" height="1"/><rect x="68" y="715" width="1" height="1"/><rect x="572" y="715" width="1" height="1"/><rect x="993" y="715" width="1" height="1"/><rect x="67" y="716" width="1" height="1"/><rect x="394" y="716" width="1" height="1"/><rect x="573" y="716" width="1" height="1"/><rect x="66" y="717" width="1" height="1"/><rect x="351" y="717" width="1" height="1"/><rect x="394" y="717" width="1" height="1"/><rect x="352" y="718" width="1" height="1"/><rect x="393" y="718" width="1" height="1"/><rect x="928" y="718" width="1" height="1"/><rect x="997" y="718" width="1" height="1"/><rect x="352" y="719" width="1" height="1"/><rect x="928" y="719" width="1" height="1"/><rect x="998" y="719" width="1" height="1"/><rect x="792" y="720" width="2" height="1"/><rect x="927" y="720" width="1" height="1"/><rect x="999" y="720" width="1" height="1"/><rect x="62" y="721" width="1" height="1"/><rect x="575" y="721" width="1" height="1"/><rect x="791" y="721" width="1" height="1"/><rect x="797" y="721" width="3" height="1"/><rect x="61" y="722" width="1" height="1"/><rect x="392" y="722" width="1" height="1"/><rect x="575" y="722" width="1" height="1"/><rect x="786" y="722" width="2" height="1"/><rect x="803" y="722" width="3" height="1"/><rect x="60" y="723" width="1" height="1"/><rect x="353" y="723" width="1" height="1"/><rect x="392" y="723" width="1" height="1"/><rect x="576" y="723" width="1" height="1"/><rect x="785" y="723" width="1" height="1"/><rect x="1167" y="723" width="1" height="1"/><rect x="353" y="724" width="1" height="1"/><rect x="391" y="724" width="1" height="1"/><rect x="925" y="724" width="1" height="1"/><rect x="1003" y="724" width="1" height="1"/><rect x="1166" y="724" width="1" height="1"/><rect x="353" y="725" width="1" height="1"/><rect x="781" y="725" width="1" height="1"/><rect x="809" y="725" width="2" height="1"/><rect x="924" y="725" width="1" height="1"/><rect x="1004" y="725" width="1" height="1"/><rect x="1165" y="725" width="1" height="1"/><rect x="780" y="726" width="1" height="1"/><rect x="811" y="726" width="1" height="1"/><rect x="924" y="726" width="1" height="1"/><rect x="1005" y="726" width="1" height="1"/><rect x="578" y="727" width="1" height="1"/><rect x="779" y="727" width="1" height="1"/><rect x="56" y="728" width="1" height="1"/><rect x="390" y="728" width="1" height="1"/><rect x="578" y="728" width="1" height="1"/><rect x="1161" y="728" width="1" height="1"/><rect x="55" y="729" width="1" height="1"/><rect x="354" y="729" width="1" height="1"/><rect x="390" y="729" width="1" height="1"/><rect x="815" y="729" width="1" height="1"/><rect x="1160" y="729" width="1" height="1"/><rect x="54" y="730" width="1" height="1"/><rect x="354" y="730" width="1" height="1"/><rect x="389" y="730" width="1" height="1"/><rect x="816" y="730" width="1" height="1"/><rect x="922" y="730" width="1" height="1"/><rect x="1009" y="730" width="1" height="1"/><rect x="1159" y="730" width="1" height="1"/><rect x="354" y="731" width="1" height="1"/><rect x="775" y="731" width="1" height="1"/><rect x="817" y="731" width="1" height="1"/><rect x="922" y="731" width="1" height="1"/><rect x="1010" y="731" width="1" height="1"/><rect x="580" y="732" width="1" height="1"/><rect x="774" y="732" width="1" height="1"/><rect x="921" y="732" width="1" height="1"/><rect x="1011" y="732" width="1" height="1"/><rect x="51" y="733" width="1" height="1"/><rect x="581" y="733" width="1" height="1"/><rect x="773" y="733" width="1" height="1"/><rect x="1155" y="733" width="1" height="1"/><rect x="50" y="734" width="1" height="1"/><rect x="388" y="734" width="1" height="1"/><rect x="581" y="734" width="1" height="1"/><rect x="821" y="734" width="1" height="1"/><rect x="1111" y="734" width="3" height="1"/><rect x="1117" y="734" width="2" height="1"/><rect x="1153" y="734" width="2" height="1"/><rect x="49" y="735" width="1" height="1"/><rect x="355" y="735" width="1" height="1"/><rect x="388" y="735" width="1" height="1"/><rect x="822" y="735" width="1" height="1"/><rect x="1015" y="735" width="1" height="1"/><rect x="1105" y="735" width="3" height="1"/><rect x="1119" y="735" width="1" height="1"/><rect x="1123" y="735" width="1" height="1"/><rect x="356" y="736" width="1" height="1"/><rect x="388" y="736" width="1" height="1"/><rect x="769" y="736" width="1" height="1"/><rect x="823" y="736" width="1" height="1"/><rect x="919" y="736" width="1" height="1"/><rect x="1016" y="736" width="1" height="1"/><rect x="1101" y="736" width="1" height="1"/><rect x="1124" y="736" width="2" height="1"/><rect x="1148" y="736" width="2" height="1"/><rect x="356" y="737" width="1" height="1"/><rect x="768" y="737" width="1" height="1"/><rect x="918" y="737" width="1" height="1"/><rect x="1017" y="737" width="1" height="1"/><rect x="1099" y="737" width="2" height="1"/><rect x="1129" y="737" width="3" height="1"/><rect x="1147" y="737" width="1" height="1"/><rect x="767" y="738" width="1" height="1"/><rect x="918" y="738" width="1" height="1"/><rect x="1135" y="738" width="3" height="1"/><rect x="1141" y="738" width="3" height="1"/><rect x="46" y="739" width="1" height="1"/><rect x="583" y="739" width="1" height="1"/><rect x="827" y="739" width="1" height="1"/><rect x="1094" y="739" width="2" height="1"/><rect x="45" y="740" width="1" height="1"/><rect x="386" y="740" width="1" height="1"/><rect x="583" y="740" width="1" height="1"/><rect x="828" y="740" width="2" height="1"/><rect x="1021" y="740" width="2" height="1"/><rect x="1093" y="740" width="1" height="1"/><rect x="44" y="741" width="1" height="1"/><rect x="357" y="741" width="1" height="1"/><rect x="386" y="741" width="1" height="1"/><rect x="584" y="741" width="1" height="1"/><rect x="1023" y="741" width="1" height="1"/><rect x="357" y="742" width="1" height="1"/><rect x="386" y="742" width="1" height="1"/><rect x="763" y="742" width="1" height="1"/><rect x="916" y="742" width="1" height="1"/><rect x="1087" y="742" width="3" height="1"/><rect x="357" y="743" width="1" height="1"/><rect x="761" y="743" width="2" height="1"/><rect x="833" y="743" width="1" height="1"/><rect x="915" y="743" width="1" height="1"/><rect x="1027" y="743" width="1" height="1"/><rect x="41" y="744" width="1" height="1"/><rect x="834" y="744" width="2" height="1"/><rect x="915" y="744" width="1" height="1"/><rect x="1028" y="744" width="2" height="1"/><rect x="1083" y="744" width="1" height="1"/><rect x="40" y="745" width="1" height="1"/><rect x="586" y="745" width="1" height="1"/><rect x="1033" y="745" width="1" height="1"/><rect x="1041" y="745" width="1" height="1"/><rect x="1045" y="745" width="3" height="1"/><rect x="1081" y="745" width="2" height="1"/><rect x="40" y="746" width="1" height="1"/><rect x="384" y="746" width="1" height="1"/><rect x="586" y="746" width="1" height="1"/><rect x="839" y="746" width="1" height="1"/><rect x="1034" y="746" width="2" height="1"/><rect x="1039" y="746" width="2" height="1"/><rect x="1051" y="746" width="2" height="1"/><rect x="1070" y="746" width="2" height="1"/><rect x="1075" y="746" width="3" height="1"/><rect x="358" y="747" width="1" height="1"/><rect x="384" y="747" width="1" height="1"/><rect x="587" y="747" width="1" height="1"/><rect x="758" y="747" width="1" height="1"/><rect x="840" y="747" width="2" height="1"/><rect x="1053" y="747" width="1" height="1"/><rect x="1057" y="747" width="3" height="1"/><rect x="1063" y="747" width="3" height="1"/><rect x="1069" y="747" width="1" height="1"/><rect x="359" y="748" width="1" height="1"/><rect x="384" y="748" width="1" height="1"/><rect x="757" y="748" width="1" height="1"/><rect x="912" y="748" width="1" height="1"/><rect x="359" y="749" width="1" height="1"/><rect x="756" y="749" width="1" height="1"/><rect x="845" y="749" width="2" height="1"/><rect x="911" y="749" width="1" height="1"/><rect x="36" y="750" width="1" height="1"/><rect x="847" y="750" width="1" height="1"/><rect x="911" y="750" width="1" height="1"/><rect x="36" y="751" width="1" height="1"/><rect x="589" y="751" width="1" height="1"/><rect x="851" y="751" width="1" height="1"/><rect x="35" y="752" width="1" height="1"/><rect x="382" y="752" width="1" height="1"/><rect x="589" y="752" width="1" height="1"/><rect x="852" y="752" width="2" height="1"/><rect x="360" y="753" width="1" height="1"/><rect x="382" y="753" width="1" height="1"/><rect x="590" y="753" width="1" height="1"/><rect x="753" y="753" width="1" height="1"/><rect x="857" y="753" width="2" height="1"/><rect x="907" y="753" width="1" height="1"/><rect x="360" y="754" width="1" height="1"/><rect x="382" y="754" width="1" height="1"/><rect x="751" y="754" width="2" height="1"/><rect x="859" y="754" width="1" height="1"/><rect x="906" y="754" width="1" height="1"/><rect x="361" y="755" width="1" height="1"/><rect x="863" y="755" width="3" height="1"/><rect x="905" y="755" width="1" height="1"/><rect x="32" y="756" width="1" height="1"/><rect x="869" y="756" width="3" height="1"/><rect x="31" y="757" width="1" height="1"/><rect x="593" y="757" width="1" height="1"/><rect x="875" y="757" width="2" height="1"/><rect x="30" y="758" width="1" height="1"/><rect x="380" y="758" width="1" height="1"/><rect x="594" y="758" width="1" height="1"/><rect x="747" y="758" width="1" height="1"/><rect x="877" y="758" width="1" height="1"/><rect x="900" y="758" width="2" height="1"/><rect x="362" y="759" width="1" height="1"/><rect x="379" y="759" width="1" height="1"/><rect x="595" y="759" width="1" height="1"/><rect x="746" y="759" width="1" height="1"/><rect x="881" y="759" width="1" height="1"/><rect x="899" y="759" width="1" height="1"/><rect x="362" y="760" width="1" height="1"/><rect x="379" y="760" width="1" height="1"/><rect x="745" y="760" width="1" height="1"/><rect x="882" y="760" width="2" height="1"/><rect x="363" y="761" width="1" height="1"/><rect x="599" y="761" width="1" height="1"/><rect x="887" y="761" width="2" height="1"/><rect x="893" y="761" width="3" height="1"/><rect x="27" y="762" width="1" height="1"/><rect x="600" y="762" width="2" height="1"/><rect x="618" y="762" width="2" height="1"/><rect x="623" y="762" width="3" height="1"/><rect x="889" y="762" width="1" height="1"/><rect x="26" y="763" width="1" height="1"/><rect x="605" y="763" width="3" height="1"/><rect x="611" y="763" width="3" height="1"/><rect x="617" y="763" width="1" height="1"/><rect x="741" y="763" width="1" height="1"/><rect x="25" y="764" width="1" height="1"/><rect x="377" y="764" width="1" height="1"/><rect x="629" y="764" width="2" height="1"/><rect x="740" y="764" width="1" height="1"/><rect x="365" y="765" width="1" height="1"/><rect x="376" y="765" width="1" height="1"/><rect x="631" y="765" width="1" height="1"/><rect x="739" y="765" width="1" height="1"/><rect x="366" y="766" width="1" height="1"/><rect x="375" y="766" width="1" height="1"/><rect x="366" y="767" width="1" height="1"/><rect x="22" y="768" width="1" height="1"/><rect x="21" y="769" width="1" height="1"/><rect x="371" y="769" width="2" height="1"/><rect x="635" y="769" width="1" height="1"/><rect x="735" y="769" width="1" height="1"/><rect x="20" y="770" width="1" height="1"/><rect x="370" y="770" width="1" height="1"/><rect x="636" y="770" width="1" height="1"/><rect x="734" y="770" width="1" height="1"/><rect x="636" y="771" width="1" height="1"/><rect x="733" y="771" width="1" height="1"/><rect x="16" y="773" width="1" height="1"/><rect x="15" y="774" width="1" height="1"/><rect x="14" y="775" width="1" height="1"/><rect x="639" y="775" width="1" height="1"/><rect x="730" y="775" width="1" height="1"/><rect x="640" y="776" width="1" height="1"/><rect x="729" y="776" width="1" height="1"/><rect x="641" y="777" width="1" height="1"/><rect x="728" y="777" width="1" height="1"/><rect x="10" y="778" width="1" height="1"/><rect x="8" y="779" width="2" height="1"/><rect x="4" y="781" width="1" height="1"/><rect x="643" y="781" width="1" height="1"/><rect x="2" y="782" width="2" height="1"/><rect x="644" y="782" width="1" height="1"/><rect x="725" y="782" width="1" height="1"/><rect x="644" y="783" width="1" height="1"/><rect x="724" y="783" width="1" height="1"/><rect x="724" y="784" width="1" height="1"/><rect x="647" y="787" width="1" height="1"/><rect x="647" y="788" width="1" height="1"/><rect x="721" y="788" width="1" height="1"/><rect x="648" y="789" width="1" height="1"/><rect x="720" y="789" width="1" height="1"/><rect x="719" y="790" width="1" height="1"/><rect x="650" y="792" width="1" height="1"/><rect x="651" y="793" width="1" height="1"/><rect x="651" y="794" width="1" height="1"/><rect x="717" y="794" width="1" height="1"/><rect x="716" y="795" width="1" height="1"/><rect x="716" y="796" width="1" height="1"/><rect x="653" y="798" width="1" height="1"/><rect x="654" y="799" width="1" height="1"/><rect x="713" y="799" width="1" height="1"/><rect x="655" y="800" width="1" height="1"/><rect x="713" y="800" width="1" height="1"/><rect x="712" y="801" width="1" height="1"/><rect x="657" y="804" width="1" height="1"/><rect x="657" y="805" width="2" height="1"/><rect x="710" y="805" width="1" height="1"/><rect x="709" y="806" width="1" height="1"/><rect x="709" y="807" width="1" height="1"/><rect x="661" y="809" width="1" height="1"/><rect x="661" y="810" width="1" height="1"/><rect x="706" y="811" width="1" height="1"/><rect x="662" y="812" width="1" height="1"/><rect x="705" y="812" width="1" height="1"/><rect x="705" y="813" width="1" height="1"/><rect x="665" y="816" width="1" height="1"/><rect x="666" y="817" width="1" height="1"/><rect x="702" y="817" width="1" height="1"/><rect x="667" y="818" width="1" height="1"/><rect x="701" y="818" width="1" height="1"/><rect x="700" y="819" width="1" height="1"/><rect x="671" y="822" width="2" height="1"/><rect x="697" y="822" width="1" height="1"/><rect x="673" y="823" width="1" height="1"/><rect x="696" y="823" width="1" height="1"/><rect x="695" y="824" width="1" height="1"/><rect x="677" y="825" width="1" height="1"/><rect x="678" y="826" width="2" height="1"/><rect x="691" y="827" width="1" height="1"/><rect x="683" y="828" width="3" height="1"/><rect x="689" y="828" width="2" height="1"/></g><g><polygon points="318.5,630.9 326.7,623.7 326.7,617.8 321.0,622.9 321.0,611.9 316.0,611.9 316.0,622.9 310.3,617.8 310.3,623.7" fill="#ff5555"/><polygon points="334.9,714.6 342.9,721.1 342.9,727.3 336.9,722.4 336.9,733.4 332.9,733.4 332.9,722.4 326.9,727.3 326.9,721.1" fill="#00e676"/><polygon points="678.9,824.9 686.9,831.4 686.9,837.6 680.9,832.7 680.9,843.7 676.9,843.7 676.9,832.7 670.9,837.6 670.9,831.4" fill="#00e676"/><polygon points="778.5,723.6 786.7,716.4 786.7,710.5 781.0,715.6 781.0,704.6 776.0,704.6 776.0,715.6 770.3,710.5 770.3,716.4" fill="#ff5555"/><polygon points="878.9,760.3 886.9,766.8 886.9,773.0 880.9,768.1 880.9,779.1 876.9,779.1 876.9,768.1 870.9,773.0 870.9,766.8" fill="#00e676"/><polygon points="922.5,704.4 930.7,697.2 930.7,691.3 925.0,696.4 925.0,685.4 920.0,685.4 920.0,696.4 914.3,691.3 914.3,697.2" fill="#ff5555"/><polygon points="1122.9,737.5 1130.9,744.0 1130.9,750.2 1124.9,745.3 1124.9,756.3 1120.9,756.3 1120.9,745.3 1114.9,750.2 1114.9,744.0" fill="#00e676"/></g><g shape-rendering="crispEdges"><rect x="14" y="594" width="198" height="93" fill="#10121c"/></g><text x="23" y="610" font-size="14.67" fill="#0c9cff" font-family='"Liberation Sans", sans-serif' font-weight="bold" textLength="128.5" lengthAdjust="spacingAndGlyphs">MACD Divergency</text><text x="22.5" y="625" font-size="11" fill="#30c874" font-family='"DejaVu Sans Mono", "Liberation Mono", monospace' font-weight="normal" textLength="97.6" lengthAdjust="spacingAndGlyphs" stroke="#30c874" stroke-width="0.35">MACD: 0.007831</text><text x="22.5" y="640" font-size="11" fill="#30c874" font-family='"DejaVu Sans Mono", "Liberation Mono", monospace' font-weight="normal" textLength="97.6" lengthAdjust="spacingAndGlyphs" stroke="#30c874" stroke-width="0.35">Hist: 0.009288</text><text x="22.5" y="655" font-size="11" fill="#f0900c" font-family='"DejaVu Sans Mono", "Liberation Mono", monospace' font-weight="normal" textLength="104.6" lengthAdjust="spacingAndGlyphs" stroke="#f0900c" stroke-width="0.35">Sign: -0.001457</text><polygon points="24.5,673 34.5,673 29.5,663.5" fill="#00e676"/><text x="36.5" y="672.6" font-size="13" fill="#00e676" font-family='"Liberation Sans", sans-serif' font-weight="normal" textLength="126" lengthAdjust="spacingAndGlyphs" stroke="#00e676" stroke-width="0.4">x25B2 STRONG BUY</text><g shape-rendering="crispEdges"><rect x="2" y="2" width="1474" height="1" fill="#ffffff"/><rect x="2" y="2" width="1" height="571" fill="#ffffff"/><rect x="2" y="574" width="1" height="286" fill="#ffffff"/><rect x="1475" y="2" width="1" height="571" fill="#ffffff"/><rect x="1475" y="574" width="1" height="286" fill="#ffffff"/><rect x="2" y="572" width="1474" height="1" fill="#ffffff"/><rect x="2" y="574" width="1478" height="1" fill="#ffffff"/><rect x="2" y="859" width="1474" height="1" fill="#ffffff"/><rect x="1476" y="28" width="4" height="1" fill="#ffffff"/><rect x="1476" y="60" width="4" height="1" fill="#ffffff"/><rect x="1476" y="92" width="4" height="1" fill="#ffffff"/><rect x="1476" y="124" width="4" height="1" fill="#ffffff"/><rect x="1476" y="156" width="4" height="1" fill="#ffffff"/><rect x="1476" y="188" width="4" height="1" fill="#ffffff"/><rect x="1476" y="220" width="4" height="1" fill="#ffffff"/><rect x="1476" y="252" width="4" height="1" fill="#ffffff"/><rect x="1476" y="284" width="4" height="1" fill="#ffffff"/><rect x="1476" y="316" width="4" height="1" fill="#ffffff"/><rect x="1476" y="348" width="4" height="1" fill="#ffffff"/><rect x="1476" y="380" width="4" height="1" fill="#ffffff"/><rect x="1476" y="412" width="4" height="1" fill="#ffffff"/><rect x="1476" y="444" width="4" height="1" fill="#ffffff"/><rect x="1476" y="476" width="4" height="1" fill="#ffffff"/><rect x="1476" y="508" width="4" height="1" fill="#ffffff"/><rect x="1476" y="540" width="4" height="1" fill="#ffffff"/><rect x="1476" y="717" width="4" height="1" fill="#ffffff"/><rect x="1476" y="858" width="4" height="1" fill="#ffffff"/><rect x="2" y="860" width="1" height="4" fill="#ffffff"/><rect x="130" y="860" width="1" height="4" fill="#ffffff"/><rect x="258" y="860" width="1" height="4" fill="#ffffff"/><rect x="386" y="860" width="1" height="4" fill="#ffffff"/><rect x="514" y="860" width="1" height="4" fill="#ffffff"/><rect x="642" y="860" width="1" height="4" fill="#ffffff"/><rect x="770" y="860" width="1" height="4" fill="#ffffff"/><rect x="898" y="860" width="1" height="4" fill="#ffffff"/><rect x="1026" y="860" width="1" height="4" fill="#ffffff"/><rect x="1154" y="860" width="1" height="4" fill="#ffffff"/></g><g><text x="1481" y="33" font-size="12" fill="#fff" font-family='"Liberation Sans", sans-serif' font-weight="normal" textLength="45" lengthAdjust="spacingAndGlyphs">1.13120</text><text x="1481" y="65" font-size="12" fill="#fff" font-family='"Liberation Sans", sans-serif' font-weight="normal" textLength="45" lengthAdjust="spacingAndGlyphs">1.08720</text><text x="1481" y="97" font-size="12" fill="#fff" font-family='"Liberation Sans", sans-serif' font-weight="normal" textLength="45" lengthAdjust="spacingAndGlyphs">1.04320</text><text x="1481" y="129" font-size="12" fill="#fff" font-family='"Liberation Sans", sans-serif' font-weight="normal" textLength="45" lengthAdjust="spacingAndGlyphs">0.99920</text><text x="1481" y="161" font-size="12" fill="#fff" font-family='"Liberation Sans", sans-serif' font-weight="normal" textLength="45" lengthAdjust="spacingAndGlyphs">0.95520</text><text x="1481" y="193" font-size="12" fill="#fff" font-family='"Liberation Sans", sans-serif' font-weight="normal" textLength="45" lengthAdjust="spacingAndGlyphs">0.91120</text><text x="1481" y="225" font-size="12" fill="#fff" font-family='"Liberation Sans", sans-serif' font-weight="normal" textLength="45" lengthAdjust="spacingAndGlyphs">0.86720</text><text x="1481" y="257" font-size="12" fill="#fff" font-family='"Liberation Sans", sans-serif' font-weight="normal" textLength="45" lengthAdjust="spacingAndGlyphs">0.82320</text><text x="1481" y="289" font-size="12" fill="#fff" font-family='"Liberation Sans", sans-serif' font-weight="normal" textLength="45" lengthAdjust="spacingAndGlyphs">0.77920</text><text x="1481" y="321" font-size="12" fill="#fff" font-family='"Liberation Sans", sans-serif' font-weight="normal" textLength="45" lengthAdjust="spacingAndGlyphs">0.73520</text><text x="1481" y="353" font-size="12" fill="#fff" font-family='"Liberation Sans", sans-serif' font-weight="normal" textLength="45" lengthAdjust="spacingAndGlyphs">0.69120</text><text x="1481" y="385" font-size="12" fill="#fff" font-family='"Liberation Sans", sans-serif' font-weight="normal" textLength="45" lengthAdjust="spacingAndGlyphs">0.64720</text><text x="1481" y="417" font-size="12" fill="#fff" font-family='"Liberation Sans", sans-serif' font-weight="normal" textLength="45" lengthAdjust="spacingAndGlyphs">0.60320</text><text x="1481" y="449" font-size="12" fill="#fff" font-family='"Liberation Sans", sans-serif' font-weight="normal" textLength="45" lengthAdjust="spacingAndGlyphs">0.55920</text><text x="1481" y="481" font-size="12" fill="#fff" font-family='"Liberation Sans", sans-serif' font-weight="normal" textLength="45" lengthAdjust="spacingAndGlyphs">0.51520</text><text x="1481" y="513" font-size="12" fill="#fff" font-family='"Liberation Sans", sans-serif' font-weight="normal" textLength="45" lengthAdjust="spacingAndGlyphs">0.47120</text><text x="1481" y="545" font-size="12" fill="#fff" font-family='"Liberation Sans", sans-serif' font-weight="normal" textLength="45" lengthAdjust="spacingAndGlyphs">0.42720</text><text x="1481" y="586" font-size="12" fill="#fff" font-family='"Liberation Sans", sans-serif' font-weight="normal" textLength="52.6" lengthAdjust="spacingAndGlyphs">0.073188</text><text x="1481" y="722" font-size="12" fill="#fff" font-family='"Liberation Sans", sans-serif' font-weight="normal" textLength="52" lengthAdjust="spacingAndGlyphs">0.000000</text><text x="1481" y="857" font-size="12" fill="#fff" font-family='"Liberation Sans", sans-serif' font-weight="normal" textLength="56" lengthAdjust="spacingAndGlyphs">-0.072759</text><text x="2.2" y="875" font-size="12" fill="#fff" font-family='"Liberation Sans", sans-serif' font-weight="normal" textLength="63.7" lengthAdjust="spacingAndGlyphs">1 Dec 2001</text><text x="130.2" y="875" font-size="12" fill="#fff" font-family='"Liberation Sans", sans-serif' font-weight="normal" textLength="64.8" lengthAdjust="spacingAndGlyphs">1 Aug 2004</text><text x="258.2" y="875" font-size="12" fill="#fff" font-family='"Liberation Sans", sans-serif' font-weight="normal" textLength="61" lengthAdjust="spacingAndGlyphs">1 Apr 2007</text><text x="386.2" y="875" font-size="12" fill="#fff" font-family='"Liberation Sans", sans-serif' font-weight="normal" textLength="63.7" lengthAdjust="spacingAndGlyphs">1 Dec 2009</text><text x="514.2" y="875" font-size="12" fill="#fff" font-family='"Liberation Sans", sans-serif' font-weight="normal" textLength="64.8" lengthAdjust="spacingAndGlyphs">1 Aug 2012</text><text x="642.2" y="875" font-size="12" fill="#fff" font-family='"Liberation Sans", sans-serif' font-weight="normal" textLength="61" lengthAdjust="spacingAndGlyphs">1 Apr 2015</text><text x="770.2" y="875" font-size="12" fill="#fff" font-family='"Liberation Sans", sans-serif' font-weight="normal" textLength="63.7" lengthAdjust="spacingAndGlyphs">1 Dec 2017</text><text x="898.2" y="875" font-size="12" fill="#fff" font-family='"Liberation Sans", sans-serif' font-weight="normal" textLength="64.8" lengthAdjust="spacingAndGlyphs">1 Aug 2020</text><text x="1026.2" y="875" font-size="12" fill="#fff" font-family='"Liberation Sans", sans-serif' font-weight="normal" textLength="61" lengthAdjust="spacingAndGlyphs">1 Apr 2023</text><text x="1154.2" y="875" font-size="12" fill="#fff" font-family='"Liberation Sans", sans-serif' font-weight="normal" textLength="63.7" lengthAdjust="spacingAndGlyphs">1 Dec 2025</text><text y="16" font-size="12" fill="#fff" font-family='"Liberation Sans", sans-serif'><tspan x="7.5" textLength="50.5" lengthAdjust="spacingAndGlyphs">AUDUSD,</tspan><tspan font-size="1"> </tspan><tspan x="62" textLength="47.5" lengthAdjust="spacingAndGlyphs">Monthly:</tspan><tspan font-size="1"> </tspan><tspan x="117.5" textLength="6.5" lengthAdjust="spacingAndGlyphs">1</tspan><tspan font-size="1"> </tspan><tspan x="128.5" textLength="26" lengthAdjust="spacingAndGlyphs">Lot=</tspan><tspan font-size="1"> </tspan><tspan x="159.5" textLength="45.5" lengthAdjust="spacingAndGlyphs">100,000</tspan><tspan font-size="1"> </tspan><tspan x="209" textLength="24.5" lengthAdjust="spacingAndGlyphs">AUD</tspan></text><text y="590" font-size="12" fill="#fff" font-family='"Liberation Sans", sans-serif'><tspan x="5.5" textLength="31.5" lengthAdjust="spacingAndGlyphs">MACD</tspan><tspan font-size="1"> </tspan><tspan x="41.2" textLength="59.8" lengthAdjust="spacingAndGlyphs">Divergency</tspan><tspan font-size="1"> </tspan><tspan x="106.4" textLength="51.9" lengthAdjust="spacingAndGlyphs">(12,26,9)</tspan><tspan font-size="1"> </tspan><tspan x="162.5" textLength="53" lengthAdjust="spacingAndGlyphs">0.009288</tspan><tspan font-size="1"> </tspan><tspan x="219.5" textLength="53" lengthAdjust="spacingAndGlyphs">0.007831</tspan><tspan font-size="1"> </tspan><tspan x="276.5" textLength="57" lengthAdjust="spacingAndGlyphs">-0.001457</tspan><tspan font-size="1"> </tspan><tspan x="337.8" textLength="53" lengthAdjust="spacingAndGlyphs">0.000000</tspan><tspan font-size="1"> </tspan><tspan x="394.8" textLength="53" lengthAdjust="spacingAndGlyphs">0.000000</tspan></text><text x="288.5" y="98" font-size="12" fill="#ff5555" font-family='"Liberation Sans", sans-serif' font-weight="bold" textLength="44.2" lengthAdjust="spacingAndGlyphs">Bearish</text><polygon points="337.79999999999995,90.1 346.5,90.1 342.15,97.1" fill="#ff5555"/><text x="748.4" y="238" font-size="12" fill="#ff5555" font-family='"Liberation Sans", sans-serif' font-weight="bold" textLength="44.2" lengthAdjust="spacingAndGlyphs">Bearish</text><polygon points="797.6999999999999,230.1 806.4,230.1 802.05,237.1" fill="#ff5555"/><text x="892.7" y="233" font-size="12" fill="#ff5555" font-family='"Liberation Sans", sans-serif' font-weight="bold" textLength="44.2" lengthAdjust="spacingAndGlyphs">Bearish</text><polygon points="942.0,225.1 950.7,225.1 946.35,232.1" fill="#ff5555"/><text x="307.5" y="489.4" font-size="12" fill="#00e676" font-family='"Liberation Sans", sans-serif' font-weight="bold" textLength="38.2" lengthAdjust="spacingAndGlyphs">Bullish</text><polygon points="351.09999999999997,488.9 359.2,488.9 355.15,481.7" fill="#00e676"/><text x="651.5" y="401.4" font-size="12" fill="#00e676" font-family='"Liberation Sans", sans-serif' font-weight="bold" textLength="38.2" lengthAdjust="spacingAndGlyphs">Bullish</text><polygon points="695.1,400.9 703.1999999999999,400.9 699.15,393.7" fill="#00e676"/><text x="851.4" y="548.4" font-size="12" fill="#00e676" font-family='"Liberation Sans", sans-serif' font-weight="bold" textLength="38.2" lengthAdjust="spacingAndGlyphs">Bullish</text><polygon points="895.0,547.9 903.0999999999999,547.9 899.05,540.7" fill="#00e676"/><text x="1095.3" y="471.4" font-size="12" fill="#00e676" font-family='"Liberation Sans", sans-serif' font-weight="bold" textLength="38.2" lengthAdjust="spacingAndGlyphs">Bullish</text><polygon points="1138.9,470.9 1147.0,470.9 1142.95,463.7" fill="#00e676"/><polygon points="5.9,546 14.4,546 10.15,538.7" fill="#00e676"/><text x="735.8" y="30" font-size="25.3" fill="#00bfff" font-family='"Liberation Serif", serif' font-weight="normal" textLength="144.5" lengthAdjust="spacingAndGlyphs" text-anchor="middle" stroke="#00bfff" stroke-width="0.25">enigmera.com</text><path d="M649.3,17.7 Q650.7299999999999,22.77 655.8,24.2 Q650.7299999999999,25.63 649.3,30.7 Q647.87,25.63 642.8,24.2 Q647.87,22.77 649.3,17.7Z" fill="#00bfff"/><path d="M827.8,17.7 Q829.2299999999999,22.77 834.3,24.2 Q829.2299999999999,25.63 827.8,30.7 Q826.37,25.63 821.3,24.2 Q826.37,22.77 827.8,17.7Z" fill="#00bfff"/></g></svg></body></html>
